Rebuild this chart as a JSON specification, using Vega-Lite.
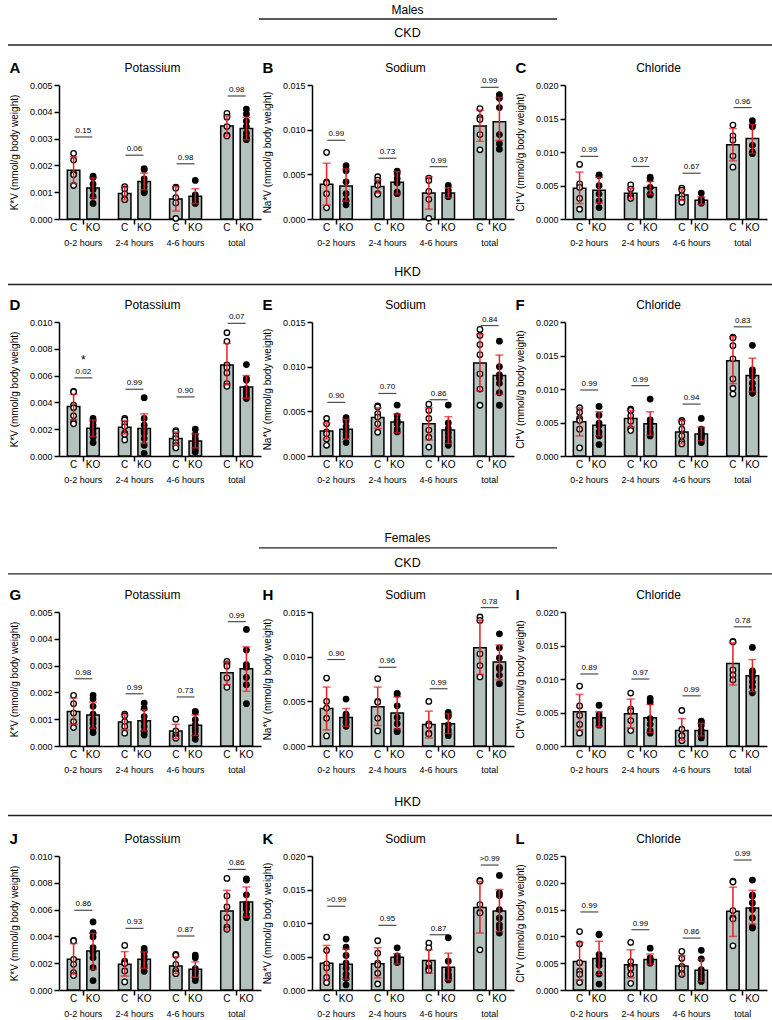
{
"$schema":"https://vega.github.io/schema/vega-lite/v6.json",
"background":"white",
"padding":{"left":7,"top":0,"right":0,"bottom":0},
"spacing":0,
"config":{"font":"Liberation Sans","view":{"stroke":null},
"axis":{"domainColor":"black","domainWidth":1.5,"tickColor":"black","tickWidth":1.5,"tickSize":5,"labelColor":"black","titleColor":"black","labelFontSize":9,"grid":false},
"axisY":{"titleFontSize":10,"titleFontWeight":"normal","titlePadding":10,"labelPadding":2,"labelOverlap":false},
"axisX":{"labelAngle":0,"labelPadding":14.5}},
"datasets":{
"bars":[
{"p":"A","g":"0-2","k":"C","m":0.00182,"lo":0.00132,"hi":0.00232},{"p":"A","g":"0-2","k":"KO","m":0.00116,"lo":0.00079,"hi":0.00153},{"p":"A","g":"2-4","k":"C","m":0.00095,"lo":0.00071,"hi":0.00119},{"p":"A","g":"2-4","k":"KO","m":0.0014,"lo":0.00109,"hi":0.00171},{"p":"A","g":"4-6","k":"C","m":0.00075,"lo":0.0003,"hi":0.0012},{"p":"A","g":"4-6","k":"KO","m":0.00085,"lo":0.00057,"hi":0.00113},{"p":"A","g":"total","k":"C","m":0.00347,"lo":0.00309,"hi":0.00385},{"p":"A","g":"total","k":"KO","m":0.00338,"lo":0.00296,"hi":0.0038},
{"p":"B","g":"0-2","k":"C","m":0.0039,"lo":0.00155,"hi":0.00625},{"p":"B","g":"0-2","k":"KO","m":0.0037,"lo":0.002,"hi":0.0056},{"p":"B","g":"2-4","k":"C","m":0.00365,"lo":0.0029,"hi":0.0044},{"p":"B","g":"2-4","k":"KO","m":0.0041,"lo":0.0028,"hi":0.0053},{"p":"B","g":"4-6","k":"C","m":0.0029,"lo":0.0011,"hi":0.0047},{"p":"B","g":"4-6","k":"KO","m":0.0029,"lo":0.0024,"hi":0.0035},{"p":"B","g":"total","k":"C","m":0.0104,"lo":0.0087,"hi":0.0122},{"p":"B","g":"total","k":"KO","m":0.0109,"lo":0.0088,"hi":0.0136},
{"p":"C","g":"0-2","k":"C","m":0.0046,"lo":0.0023,"hi":0.007},{"p":"C","g":"0-2","k":"KO","m":0.0043,"lo":0.0024,"hi":0.0062},{"p":"C","g":"2-4","k":"C","m":0.00385,"lo":0.003,"hi":0.0046},{"p":"C","g":"2-4","k":"KO","m":0.0047,"lo":0.0037,"hi":0.0056},{"p":"C","g":"4-6","k":"C","m":0.0036,"lo":0.0028,"hi":0.0044},{"p":"C","g":"4-6","k":"KO","m":0.0028,"lo":0.0022,"hi":0.0033},{"p":"C","g":"total","k":"C","m":0.0111,"lo":0.0087,"hi":0.0135},{"p":"C","g":"total","k":"KO","m":0.012,"lo":0.0098,"hi":0.0141},
{"p":"D","g":"0-2","k":"C","m":0.0037,"lo":0.0027,"hi":0.0046},{"p":"D","g":"0-2","k":"KO","m":0.00207,"lo":0.00145,"hi":0.00268},{"p":"D","g":"2-4","k":"C","m":0.00215,"lo":0.00163,"hi":0.00262},{"p":"D","g":"2-4","k":"KO","m":0.00205,"lo":0.00095,"hi":0.00315},{"p":"D","g":"4-6","k":"C","m":0.0013,"lo":0.0008,"hi":0.0018},{"p":"D","g":"4-6","k":"KO","m":0.00112,"lo":0.0006,"hi":0.00165},{"p":"D","g":"total","k":"C","m":0.0068,"lo":0.0053,"hi":0.0084},{"p":"D","g":"total","k":"KO","m":0.00515,"lo":0.0043,"hi":0.006},
{"p":"E","g":"0-2","k":"C","m":0.0028,"lo":0.0019,"hi":0.0037},{"p":"E","g":"0-2","k":"KO","m":0.003,"lo":0.0019,"hi":0.0041},{"p":"E","g":"2-4","k":"C","m":0.0043,"lo":0.0031,"hi":0.0054},{"p":"E","g":"2-4","k":"KO","m":0.0038,"lo":0.0026,"hi":0.0047},{"p":"E","g":"4-6","k":"C","m":0.0036,"lo":0.0018,"hi":0.0054},{"p":"E","g":"4-6","k":"KO","m":0.0029,"lo":0.0014,"hi":0.0044},{"p":"E","g":"total","k":"C","m":0.0104,"lo":0.0073,"hi":0.0136},{"p":"E","g":"total","k":"KO","m":0.009,"lo":0.0069,"hi":0.0113},
{"p":"F","g":"0-2","k":"C","m":0.0051,"lo":0.003,"hi":0.0072},{"p":"F","g":"0-2","k":"KO","m":0.0046,"lo":0.003,"hi":0.0066},{"p":"F","g":"2-4","k":"C","m":0.0056,"lo":0.0043,"hi":0.0068},{"p":"F","g":"2-4","k":"KO","m":0.0048,"lo":0.0031,"hi":0.0066},{"p":"F","g":"4-6","k":"C","m":0.0036,"lo":0.0018,"hi":0.0053},{"p":"F","g":"4-6","k":"KO","m":0.0033,"lo":0.0023,"hi":0.0043},{"p":"F","g":"total","k":"C","m":0.0142,"lo":0.0108,"hi":0.0178},{"p":"F","g":"total","k":"KO","m":0.012,"lo":0.0096,"hi":0.0146},
{"p":"G","g":"0-2","k":"C","m":0.00129,"lo":0.00081,"hi":0.00179},{"p":"G","g":"0-2","k":"KO","m":0.00116,"lo":0.00066,"hi":0.00164},{"p":"G","g":"2-4","k":"C","m":0.0009,"lo":0.0006,"hi":0.00116},{"p":"G","g":"2-4","k":"KO","m":0.00094,"lo":0.00056,"hi":0.00135},{"p":"G","g":"4-6","k":"C","m":0.00056,"lo":0.00027,"hi":0.00081},{"p":"G","g":"4-6","k":"KO","m":0.00077,"lo":0.00039,"hi":0.00116},{"p":"G","g":"total","k":"C","m":0.00273,"lo":0.00229,"hi":0.00314},{"p":"G","g":"total","k":"KO","m":0.00288,"lo":0.00204,"hi":0.0037},
{"p":"H","g":"0-2","k":"C","m":0.0042,"lo":0.0018,"hi":0.0066},{"p":"H","g":"0-2","k":"KO","m":0.0032,"lo":0.0022,"hi":0.0042},{"p":"H","g":"2-4","k":"C","m":0.0044,"lo":0.0023,"hi":0.0066},{"p":"H","g":"2-4","k":"KO","m":0.0037,"lo":0.0019,"hi":0.0055},{"p":"H","g":"4-6","k":"C","m":0.0024,"lo":0.0009,"hi":0.0039},{"p":"H","g":"4-6","k":"KO","m":0.0025,"lo":0.0014,"hi":0.0036},{"p":"H","g":"total","k":"C","m":0.011,"lo":0.008,"hi":0.0141},{"p":"H","g":"total","k":"KO","m":0.0094,"lo":0.0074,"hi":0.0113},
{"p":"I","g":"0-2","k":"C","m":0.0051,"lo":0.0024,"hi":0.0077},{"p":"I","g":"0-2","k":"KO","m":0.0042,"lo":0.0029,"hi":0.0051},{"p":"I","g":"2-4","k":"C","m":0.0048,"lo":0.0027,"hi":0.007},{"p":"I","g":"2-4","k":"KO","m":0.0042,"lo":0.002,"hi":0.0062},{"p":"I","g":"4-6","k":"C","m":0.0023,"lo":0.0008,"hi":0.0041},{"p":"I","g":"4-6","k":"KO","m":0.0023,"lo":0.0015,"hi":0.0034},{"p":"I","g":"total","k":"C","m":0.0123,"lo":0.0091,"hi":0.0154},{"p":"I","g":"total","k":"KO","m":0.0105,"lo":0.0081,"hi":0.0129},
{"p":"J","g":"0-2","k":"C","m":0.00229,"lo":0.00117,"hi":0.00346},{"p":"J","g":"0-2","k":"KO","m":0.00291,"lo":0.00154,"hi":0.00423},{"p":"J","g":"2-4","k":"C","m":0.00192,"lo":0.00104,"hi":0.00286},{"p":"J","g":"2-4","k":"KO","m":0.00229,"lo":0.00162,"hi":0.00284},{"p":"J","g":"4-6","k":"C","m":0.00179,"lo":0.00122,"hi":0.00249},{"p":"J","g":"4-6","k":"KO","m":0.00154,"lo":0.00095,"hi":0.0021},{"p":"J","g":"total","k":"C","m":0.0059,"lo":0.00448,"hi":0.00744},{"p":"J","g":"total","k":"KO","m":0.00657,"lo":0.00545,"hi":0.00769},
{"p":"K","g":"0-2","k":"C","m":0.004,"lo":0.0015,"hi":0.00665},{"p":"K","g":"0-2","k":"KO","m":0.00385,"lo":0.0016,"hi":0.0061},{"p":"K","g":"2-4","k":"C","m":0.0039,"lo":0.0018,"hi":0.0063},{"p":"K","g":"2-4","k":"KO","m":0.0049,"lo":0.0039,"hi":0.0054},{"p":"K","g":"4-6","k":"C","m":0.0044,"lo":0.0025,"hi":0.006},{"p":"K","g":"4-6","k":"KO","m":0.0034,"lo":0.0015,"hi":0.0055},{"p":"K","g":"total","k":"C","m":0.0123,"lo":0.0085,"hi":0.0162},{"p":"K","g":"total","k":"KO","m":0.0118,"lo":0.0087,"hi":0.015},
{"p":"L","g":"0-2","k":"C","m":0.0053,"lo":0.0019,"hi":0.0089},{"p":"L","g":"0-2","k":"KO","m":0.0059,"lo":0.0029,"hi":0.0091},{"p":"L","g":"2-4","k":"C","m":0.0047,"lo":0.0023,"hi":0.0075},{"p":"L","g":"2-4","k":"KO","m":0.0057,"lo":0.0048,"hi":0.0067},{"p":"L","g":"4-6","k":"C","m":0.0045,"lo":0.0027,"hi":0.0064},{"p":"L","g":"4-6","k":"KO","m":0.0037,"lo":0.0016,"hi":0.0057},{"p":"L","g":"total","k":"C","m":0.0147,"lo":0.01,"hi":0.0192},{"p":"L","g":"total","k":"KO","m":0.0153,"lo":0.0123,"hi":0.0186}
],
"ann":[
{"p":"A","g":"0-2","t":"0.15","y":0.00306},{"p":"A","g":"2-4","t":"0.06","y":0.00238},{"p":"A","g":"4-6","t":"0.98","y":0.00206},{"p":"A","g":"total","t":"0.98","y":0.00459},
{"p":"B","g":"0-2","t":"0.99","y":0.00881},{"p":"B","g":"2-4","t":"0.73","y":0.0068},{"p":"B","g":"4-6","t":"0.99","y":0.00586},{"p":"B","g":"total","t":"0.99","y":0.01474},
{"p":"C","g":"0-2","t":"0.99","y":0.00935},{"p":"C","g":"2-4","t":"0.37","y":0.00784},{"p":"C","g":"4-6","t":"0.67","y":0.00683},{"p":"C","g":"total","t":"0.96","y":0.01663},
{"p":"D","g":"0-2","t":"0.02","y":0.00583,"s":"*"},{"p":"D","g":"2-4","t":"0.99","y":0.00498},{"p":"D","g":"4-6","t":"0.90","y":0.00441},{"p":"D","g":"total","t":"0.07","y":0.0099},
{"p":"E","g":"0-2","t":"0.90","y":0.006},{"p":"E","g":"2-4","t":"0.70","y":0.007},{"p":"E","g":"4-6","t":"0.86","y":0.0063},{"p":"E","g":"total","t":"0.84","y":0.0146},
{"p":"F","g":"0-2","t":"0.99","y":0.00985},{"p":"F","g":"2-4","t":"0.99","y":0.0105},{"p":"F","g":"4-6","t":"0.94","y":0.00775},{"p":"F","g":"total","t":"0.83","y":0.01928},
{"p":"G","g":"0-2","t":"0.98","y":0.00251},{"p":"G","g":"2-4","t":"0.99","y":0.00195},{"p":"G","g":"4-6","t":"0.73","y":0.00183},{"p":"G","g":"total","t":"0.99","y":0.00464},
{"p":"H","g":"0-2","t":"0.90","y":0.00968},{"p":"H","g":"2-4","t":"0.96","y":0.00881},{"p":"H","g":"4-6","t":"0.99","y":0.00641},{"p":"H","g":"total","t":"0.78","y":0.01549},
{"p":"I","g":"0-2","t":"0.89","y":0.01075},{"p":"I","g":"2-4","t":"0.97","y":0.01},{"p":"I","g":"4-6","t":"0.99","y":0.00749},{"p":"I","g":"total","t":"0.78","y":0.01779},
{"p":"J","g":"0-2","t":"0.86","y":0.00595},{"p":"J","g":"2-4","t":"0.93","y":0.0046},{"p":"J","g":"4-6","t":"0.87","y":0.00403},{"p":"J","g":"total","t":"0.86","y":0.009},
{"p":"K","g":"0-2","t":">0.99","y":0.0125},{"p":"K","g":"2-4","t":"0.95","y":0.00965},{"p":"K","g":"4-6","t":"0.87","y":0.00825},{"p":"K","g":"total","t":">0.99","y":0.01865},
{"p":"L","g":"0-2","t":"0.99","y":0.01456},{"p":"L","g":"2-4","t":"0.99","y":0.01125},{"p":"L","g":"4-6","t":"0.86","y":0.00969},{"p":"L","g":"total","t":"0.99","y":0.02425}
],
"pts":[
{"p":"A","g":"0-2","k":"C","v":0.00245},{"p":"A","g":"0-2","k":"C","v":0.0022},{"p":"A","g":"0-2","k":"C","v":0.0017},{"p":"A","g":"0-2","k":"C","v":0.00165},{"p":"A","g":"0-2","k":"C","v":0.00125},
{"p":"A","g":"0-2","k":"KO","v":0.0016},{"p":"A","g":"0-2","k":"KO","v":0.00155},{"p":"A","g":"0-2","k":"KO","v":0.0013},{"p":"A","g":"0-2","k":"KO","v":0.0011},{"p":"A","g":"0-2","k":"KO","v":0.00085},{"p":"A","g":"0-2","k":"KO","v":0.00058},
{"p":"A","g":"2-4","k":"C","v":0.00121},{"p":"A","g":"2-4","k":"C","v":0.00112},{"p":"A","g":"2-4","k":"C","v":0.00094},{"p":"A","g":"2-4","k":"C","v":0.00074},{"p":"A","g":"2-4","k":"C","v":0.00072},
{"p":"A","g":"2-4","k":"KO","v":0.00188},{"p":"A","g":"2-4","k":"KO","v":0.00185},{"p":"A","g":"2-4","k":"KO","v":0.0015},{"p":"A","g":"2-4","k":"KO","v":0.00134},{"p":"A","g":"2-4","k":"KO","v":0.00119},{"p":"A","g":"2-4","k":"KO","v":0.00103},{"p":"A","g":"2-4","k":"KO","v":0.00098},
{"p":"A","g":"4-6","k":"C","v":0.00119},{"p":"A","g":"4-6","k":"C","v":0.00115},{"p":"A","g":"4-6","k":"C","v":0.0008},{"p":"A","g":"4-6","k":"C","v":0.0006},{"p":"A","g":"4-6","k":"C","v":0.00002},
{"p":"A","g":"4-6","k":"KO","v":0.00144},{"p":"A","g":"4-6","k":"KO","v":0.0009},{"p":"A","g":"4-6","k":"KO","v":0.00078},{"p":"A","g":"4-6","k":"KO","v":0.0007},{"p":"A","g":"4-6","k":"KO","v":0.0006},{"p":"A","g":"4-6","k":"KO","v":0.00058},
{"p":"A","g":"total","k":"C","v":0.00394},{"p":"A","g":"total","k":"C","v":0.0038},{"p":"A","g":"total","k":"C","v":0.00345},{"p":"A","g":"total","k":"C","v":0.00313},{"p":"A","g":"total","k":"C","v":0.0031},
{"p":"A","g":"total","k":"KO","v":0.0041},{"p":"A","g":"total","k":"KO","v":0.00392},{"p":"A","g":"total","k":"KO","v":0.00365},{"p":"A","g":"total","k":"KO","v":0.00345},{"p":"A","g":"total","k":"KO","v":0.0032},{"p":"A","g":"total","k":"KO","v":0.00305},{"p":"A","g":"total","k":"KO","v":0.00296},
{"p":"B","g":"0-2","k":"C","v":0.00745},{"p":"B","g":"0-2","k":"C","v":0.00416},{"p":"B","g":"0-2","k":"C","v":0.00404},{"p":"B","g":"0-2","k":"C","v":0.00284},{"p":"B","g":"0-2","k":"C","v":0.00125},
{"p":"B","g":"0-2","k":"KO","v":0.00597},{"p":"B","g":"0-2","k":"KO","v":0.0054},{"p":"B","g":"0-2","k":"KO","v":0.00416},{"p":"B","g":"0-2","k":"KO","v":0.00284},{"p":"B","g":"0-2","k":"KO","v":0.00208},{"p":"B","g":"0-2","k":"KO","v":0.00159},
{"p":"B","g":"2-4","k":"C","v":0.00473},{"p":"B","g":"2-4","k":"C","v":0.00435},{"p":"B","g":"2-4","k":"C","v":0.00397},{"p":"B","g":"2-4","k":"C","v":0.00378},{"p":"B","g":"2-4","k":"C","v":0.00284},{"p":"B","g":"2-4","k":"C","v":0.00276},
{"p":"B","g":"2-4","k":"KO","v":0.00537},{"p":"B","g":"2-4","k":"KO","v":0.0051},{"p":"B","g":"2-4","k":"KO","v":0.00454},{"p":"B","g":"2-4","k":"KO","v":0.00404},{"p":"B","g":"2-4","k":"KO","v":0.00302},{"p":"B","g":"2-4","k":"KO","v":0.00284},
{"p":"B","g":"4-6","k":"C","v":0.00458},{"p":"B","g":"4-6","k":"C","v":0.0043},{"p":"B","g":"4-6","k":"C","v":0.0031},{"p":"B","g":"4-6","k":"C","v":0.0022},{"p":"B","g":"4-6","k":"C","v":0.00008},
{"p":"B","g":"4-6","k":"KO","v":0.00375},{"p":"B","g":"4-6","k":"KO","v":0.0032},{"p":"B","g":"4-6","k":"KO","v":0.0028},{"p":"B","g":"4-6","k":"KO","v":0.0026},{"p":"B","g":"4-6","k":"KO","v":0.0025},
{"p":"B","g":"total","k":"C","v":0.01236},{"p":"B","g":"total","k":"C","v":0.01134},{"p":"B","g":"total","k":"C","v":0.01115},{"p":"B","g":"total","k":"C","v":0.00945},{"p":"B","g":"total","k":"C","v":0.00775},
{"p":"B","g":"total","k":"KO","v":0.01391},{"p":"B","g":"total","k":"KO","v":0.01353},{"p":"B","g":"total","k":"KO","v":0.01247},{"p":"B","g":"total","k":"KO","v":0.00945},{"p":"B","g":"total","k":"KO","v":0.00843},{"p":"B","g":"total","k":"KO","v":0.00782},
{"p":"C","g":"0-2","k":"C","v":0.00814},{"p":"C","g":"0-2","k":"C","v":0.00523},{"p":"C","g":"0-2","k":"C","v":0.00472},{"p":"C","g":"0-2","k":"C","v":0.00307},{"p":"C","g":"0-2","k":"C","v":0.00146},
{"p":"C","g":"0-2","k":"KO","v":0.00658},{"p":"C","g":"0-2","k":"KO","v":0.00648},{"p":"C","g":"0-2","k":"KO","v":0.00497},{"p":"C","g":"0-2","k":"KO","v":0.00372},{"p":"C","g":"0-2","k":"KO","v":0.00271},{"p":"C","g":"0-2","k":"KO","v":0.00171},
{"p":"C","g":"2-4","k":"C","v":0.00508},{"p":"C","g":"2-4","k":"C","v":0.00447},{"p":"C","g":"2-4","k":"C","v":0.00347},{"p":"C","g":"2-4","k":"C","v":0.00317},{"p":"C","g":"2-4","k":"C","v":0.00307},
{"p":"C","g":"2-4","k":"KO","v":0.00623},{"p":"C","g":"2-4","k":"KO","v":0.00598},{"p":"C","g":"2-4","k":"KO","v":0.00472},{"p":"C","g":"2-4","k":"KO","v":0.00372},{"p":"C","g":"2-4","k":"KO","v":0.0036},
{"p":"C","g":"4-6","k":"C","v":0.0046},{"p":"C","g":"4-6","k":"C","v":0.0043},{"p":"C","g":"4-6","k":"C","v":0.0035},{"p":"C","g":"4-6","k":"C","v":0.003},{"p":"C","g":"4-6","k":"C","v":0.0025},
{"p":"C","g":"4-6","k":"KO","v":0.00387},{"p":"C","g":"4-6","k":"KO","v":0.00296},{"p":"C","g":"4-6","k":"KO","v":0.00271},{"p":"C","g":"4-6","k":"KO","v":0.00246},{"p":"C","g":"4-6","k":"KO","v":0.00236},
{"p":"C","g":"total","k":"C","v":0.01402},{"p":"C","g":"total","k":"C","v":0.01241},{"p":"C","g":"total","k":"C","v":0.01176},{"p":"C","g":"total","k":"C","v":0.0094},{"p":"C","g":"total","k":"C","v":0.00774},
{"p":"C","g":"total","k":"KO","v":0.01467},{"p":"C","g":"total","k":"KO","v":0.01392},{"p":"C","g":"total","k":"KO","v":0.01377},{"p":"C","g":"total","k":"KO","v":0.011},{"p":"C","g":"total","k":"KO","v":0.01},{"p":"C","g":"total","k":"KO","v":0.00975},
{"p":"D","g":"0-2","k":"C","v":0.00483},{"p":"D","g":"0-2","k":"C","v":0.00478},{"p":"D","g":"0-2","k":"C","v":0.0038},{"p":"D","g":"0-2","k":"C","v":0.0036},{"p":"D","g":"0-2","k":"C","v":0.003},{"p":"D","g":"0-2","k":"C","v":0.0025},{"p":"D","g":"0-2","k":"C","v":0.0024},
{"p":"D","g":"0-2","k":"KO","v":0.0028},{"p":"D","g":"0-2","k":"KO","v":0.0026},{"p":"D","g":"0-2","k":"KO","v":0.0023},{"p":"D","g":"0-2","k":"KO","v":0.002},{"p":"D","g":"0-2","k":"KO","v":0.0017},{"p":"D","g":"0-2","k":"KO","v":0.0014},{"p":"D","g":"0-2","k":"KO","v":0.001},
{"p":"D","g":"2-4","k":"C","v":0.0028},{"p":"D","g":"2-4","k":"C","v":0.0027},{"p":"D","g":"2-4","k":"C","v":0.0024},{"p":"D","g":"2-4","k":"C","v":0.0022},{"p":"D","g":"2-4","k":"C","v":0.0017},{"p":"D","g":"2-4","k":"C","v":0.0016},{"p":"D","g":"2-4","k":"C","v":0.0012},
{"p":"D","g":"2-4","k":"KO","v":0.00435},{"p":"D","g":"2-4","k":"KO","v":0.0028},{"p":"D","g":"2-4","k":"KO","v":0.0023},{"p":"D","g":"2-4","k":"KO","v":0.0019},{"p":"D","g":"2-4","k":"KO","v":0.0017},{"p":"D","g":"2-4","k":"KO","v":0.0013},{"p":"D","g":"2-4","k":"KO","v":0.0008},{"p":"D","g":"2-4","k":"KO","v":0.0002},
{"p":"D","g":"4-6","k":"C","v":0.0019},{"p":"D","g":"4-6","k":"C","v":0.0018},{"p":"D","g":"4-6","k":"C","v":0.0015},{"p":"D","g":"4-6","k":"C","v":0.0013},{"p":"D","g":"4-6","k":"C","v":0.001},{"p":"D","g":"4-6","k":"C","v":0.0008},{"p":"D","g":"4-6","k":"C","v":0.0006},
{"p":"D","g":"4-6","k":"KO","v":0.002},{"p":"D","g":"4-6","k":"KO","v":0.0016},{"p":"D","g":"4-6","k":"KO","v":0.0013},{"p":"D","g":"4-6","k":"KO","v":0.0011},{"p":"D","g":"4-6","k":"KO","v":0.0009},{"p":"D","g":"4-6","k":"KO","v":0.0007},{"p":"D","g":"4-6","k":"KO","v":0.0005},{"p":"D","g":"4-6","k":"KO","v":0.0003},
{"p":"D","g":"total","k":"C","v":0.0092},{"p":"D","g":"total","k":"C","v":0.00856},{"p":"D","g":"total","k":"C","v":0.0068},{"p":"D","g":"total","k":"C","v":0.0066},{"p":"D","g":"total","k":"C","v":0.0062},{"p":"D","g":"total","k":"C","v":0.0054},{"p":"D","g":"total","k":"C","v":0.0052},
{"p":"D","g":"total","k":"KO","v":0.00682},{"p":"D","g":"total","k":"KO","v":0.00578},{"p":"D","g":"total","k":"KO","v":0.00565},{"p":"D","g":"total","k":"KO","v":0.00503},{"p":"D","g":"total","k":"KO","v":0.00478},{"p":"D","g":"total","k":"KO","v":0.00453},{"p":"D","g":"total","k":"KO","v":0.00429},
{"p":"E","g":"0-2","k":"C","v":0.0042},{"p":"E","g":"0-2","k":"C","v":0.0036},{"p":"E","g":"0-2","k":"C","v":0.0027},{"p":"E","g":"0-2","k":"C","v":0.0025},{"p":"E","g":"0-2","k":"C","v":0.0019},{"p":"E","g":"0-2","k":"C","v":0.0012},
{"p":"E","g":"0-2","k":"KO","v":0.0043},{"p":"E","g":"0-2","k":"KO","v":0.0039},{"p":"E","g":"0-2","k":"KO","v":0.0033},{"p":"E","g":"0-2","k":"KO","v":0.0029},{"p":"E","g":"0-2","k":"KO","v":0.0026},{"p":"E","g":"0-2","k":"KO","v":0.0022},{"p":"E","g":"0-2","k":"KO","v":0.0015},
{"p":"E","g":"2-4","k":"C","v":0.0056},{"p":"E","g":"2-4","k":"C","v":0.00549},{"p":"E","g":"2-4","k":"C","v":0.00474},{"p":"E","g":"2-4","k":"C","v":0.00436},{"p":"E","g":"2-4","k":"C","v":0.0036},{"p":"E","g":"2-4","k":"C","v":0.00266},
{"p":"E","g":"2-4","k":"KO","v":0.0057},{"p":"E","g":"2-4","k":"KO","v":0.0045},{"p":"E","g":"2-4","k":"KO","v":0.004},{"p":"E","g":"2-4","k":"KO","v":0.0038},{"p":"E","g":"2-4","k":"KO","v":0.0036},{"p":"E","g":"2-4","k":"KO","v":0.003},{"p":"E","g":"2-4","k":"KO","v":0.0027},
{"p":"E","g":"4-6","k":"C","v":0.0058},{"p":"E","g":"4-6","k":"C","v":0.0051},{"p":"E","g":"4-6","k":"C","v":0.0042},{"p":"E","g":"4-6","k":"C","v":0.0029},{"p":"E","g":"4-6","k":"C","v":0.0021},{"p":"E","g":"4-6","k":"C","v":0.001},
{"p":"E","g":"4-6","k":"KO","v":0.0057},{"p":"E","g":"4-6","k":"KO","v":0.0037},{"p":"E","g":"4-6","k":"KO","v":0.0031},{"p":"E","g":"4-6","k":"KO","v":0.0026},{"p":"E","g":"4-6","k":"KO","v":0.0021},{"p":"E","g":"4-6","k":"KO","v":0.0016},{"p":"E","g":"4-6","k":"KO","v":0.0012},
{"p":"E","g":"total","k":"C","v":0.01417},{"p":"E","g":"total","k":"C","v":0.01349},{"p":"E","g":"total","k":"C","v":0.01247},{"p":"E","g":"total","k":"C","v":0.01134},{"p":"E","g":"total","k":"C","v":0.00919},{"p":"E","g":"total","k":"C","v":0.00749},{"p":"E","g":"total","k":"C","v":0.00568},
{"p":"E","g":"total","k":"KO","v":0.01285},{"p":"E","g":"total","k":"KO","v":0.01},{"p":"E","g":"total","k":"KO","v":0.00908},{"p":"E","g":"total","k":"KO","v":0.0087},{"p":"E","g":"total","k":"KO","v":0.00813},{"p":"E","g":"total","k":"KO","v":0.00708},{"p":"E","g":"total","k":"KO","v":0.00568},
{"p":"F","g":"0-2","k":"C","v":0.0072},{"p":"F","g":"0-2","k":"C","v":0.0065},{"p":"F","g":"0-2","k":"C","v":0.0056},{"p":"F","g":"0-2","k":"C","v":0.0053},{"p":"F","g":"0-2","k":"C","v":0.004},{"p":"F","g":"0-2","k":"C","v":0.0012},
{"p":"F","g":"0-2","k":"KO","v":0.0074},{"p":"F","g":"0-2","k":"KO","v":0.0061},{"p":"F","g":"0-2","k":"KO","v":0.0049},{"p":"F","g":"0-2","k":"KO","v":0.0045},{"p":"F","g":"0-2","k":"KO","v":0.0036},{"p":"F","g":"0-2","k":"KO","v":0.003},{"p":"F","g":"0-2","k":"KO","v":0.0017},
{"p":"F","g":"2-4","k":"C","v":0.007},{"p":"F","g":"2-4","k":"C","v":0.0068},{"p":"F","g":"2-4","k":"C","v":0.006},{"p":"F","g":"2-4","k":"C","v":0.0052},{"p":"F","g":"2-4","k":"C","v":0.0041},{"p":"F","g":"2-4","k":"C","v":0.0038},
{"p":"F","g":"2-4","k":"KO","v":0.0085},{"p":"F","g":"2-4","k":"KO","v":0.0054},{"p":"F","g":"2-4","k":"KO","v":0.0049},{"p":"F","g":"2-4","k":"KO","v":0.0042},{"p":"F","g":"2-4","k":"KO","v":0.0036},{"p":"F","g":"2-4","k":"KO","v":0.0033},{"p":"F","g":"2-4","k":"KO","v":0.003},
{"p":"F","g":"4-6","k":"C","v":0.0053},{"p":"F","g":"4-6","k":"C","v":0.005},{"p":"F","g":"4-6","k":"C","v":0.004},{"p":"F","g":"4-6","k":"C","v":0.003},{"p":"F","g":"4-6","k":"C","v":0.0021},{"p":"F","g":"4-6","k":"C","v":0.0018},
{"p":"F","g":"4-6","k":"KO","v":0.0056},{"p":"F","g":"4-6","k":"KO","v":0.004},{"p":"F","g":"4-6","k":"KO","v":0.0035},{"p":"F","g":"4-6","k":"KO","v":0.0032},{"p":"F","g":"4-6","k":"KO","v":0.003},{"p":"F","g":"4-6","k":"KO","v":0.0028},{"p":"F","g":"4-6","k":"KO","v":0.0024},{"p":"F","g":"4-6","k":"KO","v":0.002},
{"p":"F","g":"total","k":"C","v":0.01773},{"p":"F","g":"total","k":"C","v":0.01763},{"p":"F","g":"total","k":"C","v":0.01647},{"p":"F","g":"total","k":"C","v":0.0145},{"p":"F","g":"total","k":"C","v":0.0115},{"p":"F","g":"total","k":"C","v":0.01011},{"p":"F","g":"total","k":"C","v":0.00925},
{"p":"F","g":"total","k":"KO","v":0.01652},{"p":"F","g":"total","k":"KO","v":0.01286},{"p":"F","g":"total","k":"KO","v":0.01246},{"p":"F","g":"total","k":"KO","v":0.01186},{"p":"F","g":"total","k":"KO","v":0.01086},{"p":"F","g":"total","k":"KO","v":0.01011},{"p":"F","g":"total","k":"KO","v":0.0096},{"p":"F","g":"total","k":"KO","v":0.00936},
{"p":"G","g":"0-2","k":"C","v":0.00189},{"p":"G","g":"0-2","k":"C","v":0.00158},{"p":"G","g":"0-2","k":"C","v":0.00123},{"p":"G","g":"0-2","k":"C","v":0.00091},{"p":"G","g":"0-2","k":"C","v":0.00069},
{"p":"G","g":"0-2","k":"KO","v":0.00189},{"p":"G","g":"0-2","k":"KO","v":0.00176},{"p":"G","g":"0-2","k":"KO","v":0.00148},{"p":"G","g":"0-2","k":"KO","v":0.00119},{"p":"G","g":"0-2","k":"KO","v":0.00098},{"p":"G","g":"0-2","k":"KO","v":0.00085},{"p":"G","g":"0-2","k":"KO","v":0.00066},{"p":"G","g":"0-2","k":"KO","v":0.0005},
{"p":"G","g":"2-4","k":"C","v":0.00119},{"p":"G","g":"2-4","k":"C","v":0.00113},{"p":"G","g":"2-4","k":"C","v":0.00091},{"p":"G","g":"2-4","k":"C","v":0.00073},{"p":"G","g":"2-4","k":"C","v":0.00048},
{"p":"G","g":"2-4","k":"KO","v":0.0016},{"p":"G","g":"2-4","k":"KO","v":0.00141},{"p":"G","g":"2-4","k":"KO","v":0.0011},{"p":"G","g":"2-4","k":"KO","v":0.00091},{"p":"G","g":"2-4","k":"KO","v":0.00073},{"p":"G","g":"2-4","k":"KO","v":0.00054},{"p":"G","g":"2-4","k":"KO","v":0.00041},
{"p":"G","g":"4-6","k":"C","v":0.001},{"p":"G","g":"4-6","k":"C","v":0.00056},{"p":"G","g":"4-6","k":"C","v":0.00041},{"p":"G","g":"4-6","k":"C","v":0.00035},{"p":"G","g":"4-6","k":"C","v":0.00029},
{"p":"G","g":"4-6","k":"KO","v":0.00129},{"p":"G","g":"4-6","k":"KO","v":0.00126},{"p":"G","g":"4-6","k":"KO","v":0.00098},{"p":"G","g":"4-6","k":"KO","v":0.00079},{"p":"G","g":"4-6","k":"KO","v":0.00066},{"p":"G","g":"4-6","k":"KO","v":0.00054},{"p":"G","g":"4-6","k":"KO","v":0.00039},{"p":"G","g":"4-6","k":"KO","v":0.00025},
{"p":"G","g":"total","k":"C","v":0.00316},{"p":"G","g":"total","k":"C","v":0.00306},{"p":"G","g":"total","k":"C","v":0.00298},{"p":"G","g":"total","k":"C","v":0.00254},{"p":"G","g":"total","k":"C","v":0.00219},
{"p":"G","g":"total","k":"KO","v":0.00435},{"p":"G","g":"total","k":"KO","v":0.00358},{"p":"G","g":"total","k":"KO","v":0.00304},{"p":"G","g":"total","k":"KO","v":0.00294},{"p":"G","g":"total","k":"KO","v":0.00256},{"p":"G","g":"total","k":"KO","v":0.00229},{"p":"G","g":"total","k":"KO","v":0.00158},
{"p":"H","g":"0-2","k":"C","v":0.00761},{"p":"H","g":"0-2","k":"C","v":0.00499},{"p":"H","g":"0-2","k":"C","v":0.00424},{"p":"H","g":"0-2","k":"C","v":0.00311},{"p":"H","g":"0-2","k":"C","v":0.00113},
{"p":"H","g":"0-2","k":"KO","v":0.00525},{"p":"H","g":"0-2","k":"KO","v":0.00356},{"p":"H","g":"0-2","k":"KO","v":0.00341},{"p":"H","g":"0-2","k":"KO","v":0.00293},{"p":"H","g":"0-2","k":"KO","v":0.00274},{"p":"H","g":"0-2","k":"KO","v":0.00255},{"p":"H","g":"0-2","k":"KO","v":0.0022},
{"p":"H","g":"2-4","k":"C","v":0.00754},{"p":"H","g":"2-4","k":"C","v":0.00499},{"p":"H","g":"2-4","k":"C","v":0.00491},{"p":"H","g":"2-4","k":"C","v":0.00311},{"p":"H","g":"2-4","k":"C","v":0.00169},
{"p":"H","g":"2-4","k":"KO","v":0.0059},{"p":"H","g":"2-4","k":"KO","v":0.0058},{"p":"H","g":"2-4","k":"KO","v":0.0045},{"p":"H","g":"2-4","k":"KO","v":0.0032},{"p":"H","g":"2-4","k":"KO","v":0.0025},{"p":"H","g":"2-4","k":"KO","v":0.0017},{"p":"H","g":"2-4","k":"KO","v":0.0016},
{"p":"H","g":"4-6","k":"C","v":0.00499},{"p":"H","g":"4-6","k":"C","v":0.00248},{"p":"H","g":"4-6","k":"C","v":0.00229},{"p":"H","g":"4-6","k":"C","v":0.00143},{"p":"H","g":"4-6","k":"C","v":0.00135},
{"p":"H","g":"4-6","k":"KO","v":0.00375},{"p":"H","g":"4-6","k":"KO","v":0.00349},{"p":"H","g":"4-6","k":"KO","v":0.0033},{"p":"H","g":"4-6","k":"KO","v":0.00236},{"p":"H","g":"4-6","k":"KO","v":0.0018},{"p":"H","g":"4-6","k":"KO","v":0.00143},{"p":"H","g":"4-6","k":"KO","v":0.00116},
{"p":"H","g":"total","k":"C","v":0.01444},{"p":"H","g":"total","k":"C","v":0.01406},{"p":"H","g":"total","k":"C","v":0.01031},{"p":"H","g":"total","k":"C","v":0.009},{"p":"H","g":"total","k":"C","v":0.00773},
{"p":"H","g":"total","k":"KO","v":0.01256},{"p":"H","g":"total","k":"KO","v":0.01099},{"p":"H","g":"total","k":"KO","v":0.00986},{"p":"H","g":"total","k":"KO","v":0.00881},{"p":"H","g":"total","k":"KO","v":0.00866},{"p":"H","g":"total","k":"KO","v":0.00791},{"p":"H","g":"total","k":"KO","v":0.00698},
{"p":"I","g":"0-2","k":"C","v":0.00894},{"p":"I","g":"0-2","k":"C","v":0.00598},{"p":"I","g":"0-2","k":"C","v":0.00457},{"p":"I","g":"0-2","k":"C","v":0.00322},{"p":"I","g":"0-2","k":"C","v":0.00191},
{"p":"I","g":"0-2","k":"KO","v":0.00608},{"p":"I","g":"0-2","k":"KO","v":0.00467},{"p":"I","g":"0-2","k":"KO","v":0.00432},{"p":"I","g":"0-2","k":"KO","v":0.00407},{"p":"I","g":"0-2","k":"KO","v":0.0036},{"p":"I","g":"0-2","k":"KO","v":0.0031},
{"p":"I","g":"2-4","k":"C","v":0.0079},{"p":"I","g":"2-4","k":"C","v":0.0055},{"p":"I","g":"2-4","k":"C","v":0.0052},{"p":"I","g":"2-4","k":"C","v":0.0038},{"p":"I","g":"2-4","k":"C","v":0.0023},
{"p":"I","g":"2-4","k":"KO","v":0.00709},{"p":"I","g":"2-4","k":"KO","v":0.00658},{"p":"I","g":"2-4","k":"KO","v":0.00407},{"p":"I","g":"2-4","k":"KO","v":0.00322},{"p":"I","g":"2-4","k":"KO","v":0.00231},{"p":"I","g":"2-4","k":"KO","v":0.00191},
{"p":"I","g":"4-6","k":"C","v":0.0053},{"p":"I","g":"4-6","k":"C","v":0.0025},{"p":"I","g":"4-6","k":"C","v":0.0016},{"p":"I","g":"4-6","k":"C","v":0.0015},{"p":"I","g":"4-6","k":"C","v":0.0008},
{"p":"I","g":"4-6","k":"KO","v":0.00372},{"p":"I","g":"4-6","k":"KO","v":0.00357},{"p":"I","g":"4-6","k":"KO","v":0.00307},{"p":"I","g":"4-6","k":"KO","v":0.00231},{"p":"I","g":"4-6","k":"KO","v":0.00181},{"p":"I","g":"4-6","k":"KO","v":0.00146},{"p":"I","g":"4-6","k":"KO","v":0.00121},
{"p":"I","g":"total","k":"C","v":0.01563},{"p":"I","g":"total","k":"C","v":0.01553},{"p":"I","g":"total","k":"C","v":0.01136},{"p":"I","g":"total","k":"C","v":0.0106},{"p":"I","g":"total","k":"C","v":0.00985},
{"p":"I","g":"total","k":"KO","v":0.01472},{"p":"I","g":"total","k":"KO","v":0.0112},{"p":"I","g":"total","k":"KO","v":0.01095},{"p":"I","g":"total","k":"KO","v":0.01035},{"p":"I","g":"total","k":"KO","v":0.0096},{"p":"I","g":"total","k":"KO","v":0.00884},{"p":"I","g":"total","k":"KO","v":0.00794},
{"p":"J","g":"0-2","k":"C","v":0.00371},{"p":"J","g":"0-2","k":"C","v":0.00366},{"p":"J","g":"0-2","k":"C","v":0.00229},{"p":"J","g":"0-2","k":"C","v":0.00192},{"p":"J","g":"0-2","k":"C","v":0.00129},{"p":"J","g":"0-2","k":"C","v":0.00109},
{"p":"J","g":"0-2","k":"KO","v":0.00508},{"p":"J","g":"0-2","k":"KO","v":0.00428},{"p":"J","g":"0-2","k":"KO","v":0.00396},{"p":"J","g":"0-2","k":"KO","v":0.00316},{"p":"J","g":"0-2","k":"KO","v":0.00279},{"p":"J","g":"0-2","k":"KO","v":0.00241},{"p":"J","g":"0-2","k":"KO","v":0.00167},{"p":"J","g":"0-2","k":"KO","v":0.0007},
{"p":"J","g":"2-4","k":"C","v":0.00333},{"p":"J","g":"2-4","k":"C","v":0.00216},{"p":"J","g":"2-4","k":"C","v":0.00204},{"p":"J","g":"2-4","k":"C","v":0.00197},{"p":"J","g":"2-4","k":"C","v":0.00142},{"p":"J","g":"2-4","k":"C","v":0.0006},
{"p":"J","g":"2-4","k":"KO","v":0.0031},{"p":"J","g":"2-4","k":"KO","v":0.0029},{"p":"J","g":"2-4","k":"KO","v":0.0028},{"p":"J","g":"2-4","k":"KO","v":0.0025},{"p":"J","g":"2-4","k":"KO","v":0.0022},{"p":"J","g":"2-4","k":"KO","v":0.0019},{"p":"J","g":"2-4","k":"KO","v":0.0017},{"p":"J","g":"2-4","k":"KO","v":0.0014},
{"p":"J","g":"4-6","k":"C","v":0.00266},{"p":"J","g":"4-6","k":"C","v":0.00259},{"p":"J","g":"4-6","k":"C","v":0.00192},{"p":"J","g":"4-6","k":"C","v":0.00147},{"p":"J","g":"4-6","k":"C","v":0.00129},{"p":"J","g":"4-6","k":"C","v":0.00122},
{"p":"J","g":"4-6","k":"KO","v":0.0026},{"p":"J","g":"4-6","k":"KO","v":0.0024},{"p":"J","g":"4-6","k":"KO","v":0.0016},{"p":"J","g":"4-6","k":"KO","v":0.0014},{"p":"J","g":"4-6","k":"KO","v":0.0012},{"p":"J","g":"4-6","k":"KO","v":0.0009},{"p":"J","g":"4-6","k":"KO","v":0.0007},
{"p":"J","g":"total","k":"C","v":0.00833},{"p":"J","g":"total","k":"C","v":0.00702},{"p":"J","g":"total","k":"C","v":0.0062},{"p":"J","g":"total","k":"C","v":0.0054},{"p":"J","g":"total","k":"C","v":0.0047},{"p":"J","g":"total","k":"C","v":0.00453},
{"p":"J","g":"total","k":"KO","v":0.0083},{"p":"J","g":"total","k":"KO","v":0.0082},{"p":"J","g":"total","k":"KO","v":0.0071},{"p":"J","g":"total","k":"KO","v":0.0064},{"p":"J","g":"total","k":"KO","v":0.0062},{"p":"J","g":"total","k":"KO","v":0.006},{"p":"J","g":"total","k":"KO","v":0.0056},{"p":"J","g":"total","k":"KO","v":0.0054},
{"p":"K","g":"0-2","k":"C","v":0.0079},{"p":"K","g":"0-2","k":"C","v":0.0059},{"p":"K","g":"0-2","k":"C","v":0.0039},{"p":"K","g":"0-2","k":"C","v":0.0033},{"p":"K","g":"0-2","k":"C","v":0.0019},{"p":"K","g":"0-2","k":"C","v":0.0011},
{"p":"K","g":"0-2","k":"KO","v":0.0076},{"p":"K","g":"0-2","k":"KO","v":0.0064},{"p":"K","g":"0-2","k":"KO","v":0.00515},{"p":"K","g":"0-2","k":"KO","v":0.004},{"p":"K","g":"0-2","k":"KO","v":0.00325},{"p":"K","g":"0-2","k":"KO","v":0.00235},{"p":"K","g":"0-2","k":"KO","v":0.00175},{"p":"K","g":"0-2","k":"KO","v":0.00075},
{"p":"K","g":"2-4","k":"C","v":0.00735},{"p":"K","g":"2-4","k":"C","v":0.0055},{"p":"K","g":"2-4","k":"C","v":0.004},{"p":"K","g":"2-4","k":"C","v":0.00375},{"p":"K","g":"2-4","k":"C","v":0.0025},{"p":"K","g":"2-4","k":"C","v":0.0009},
{"p":"K","g":"2-4","k":"KO","v":0.0063},{"p":"K","g":"2-4","k":"KO","v":0.0051},{"p":"K","g":"2-4","k":"KO","v":0.0049},{"p":"K","g":"2-4","k":"KO","v":0.0047},{"p":"K","g":"2-4","k":"KO","v":0.0044},{"p":"K","g":"2-4","k":"KO","v":0.0041},
{"p":"K","g":"4-6","k":"C","v":0.007},{"p":"K","g":"4-6","k":"C","v":0.0063},{"p":"K","g":"4-6","k":"C","v":0.0039},{"p":"K","g":"4-6","k":"C","v":0.0033},{"p":"K","g":"4-6","k":"C","v":0.0031},{"p":"K","g":"4-6","k":"C","v":0.0029},
{"p":"K","g":"4-6","k":"KO","v":0.0078},{"p":"K","g":"4-6","k":"KO","v":0.0043},{"p":"K","g":"4-6","k":"KO","v":0.003},{"p":"K","g":"4-6","k":"KO","v":0.0024},{"p":"K","g":"4-6","k":"KO","v":0.0021},{"p":"K","g":"4-6","k":"KO","v":0.0018},{"p":"K","g":"4-6","k":"KO","v":0.0015},
{"p":"K","g":"total","k":"C","v":0.01635},{"p":"K","g":"total","k":"C","v":0.01625},{"p":"K","g":"total","k":"C","v":0.01275},{"p":"K","g":"total","k":"C","v":0.0116},{"p":"K","g":"total","k":"C","v":0.0115},{"p":"K","g":"total","k":"C","v":0.006},
{"p":"K","g":"total","k":"KO","v":0.0171},{"p":"K","g":"total","k":"KO","v":0.0145},{"p":"K","g":"total","k":"KO","v":0.0141},{"p":"K","g":"total","k":"KO","v":0.012},{"p":"K","g":"total","k":"KO","v":0.01075},{"p":"K","g":"total","k":"KO","v":0.00975},{"p":"K","g":"total","k":"KO","v":0.00925},{"p":"K","g":"total","k":"KO","v":0.0085},
{"p":"L","g":"0-2","k":"C","v":0.0109},{"p":"L","g":"0-2","k":"C","v":0.0086},{"p":"L","g":"0-2","k":"C","v":0.0051},{"p":"L","g":"0-2","k":"C","v":0.0035},{"p":"L","g":"0-2","k":"C","v":0.0029},{"p":"L","g":"0-2","k":"C","v":0.0014},
{"p":"L","g":"0-2","k":"KO","v":0.0104},{"p":"L","g":"0-2","k":"KO","v":0.0103},{"p":"L","g":"0-2","k":"KO","v":0.0066},{"p":"L","g":"0-2","k":"KO","v":0.006},{"p":"L","g":"0-2","k":"KO","v":0.0053},{"p":"L","g":"0-2","k":"KO","v":0.0046},{"p":"L","g":"0-2","k":"KO","v":0.003},{"p":"L","g":"0-2","k":"KO","v":0.0011},
{"p":"L","g":"2-4","k":"C","v":0.00888},{"p":"L","g":"2-4","k":"C","v":0.00531},{"p":"L","g":"2-4","k":"C","v":0.00438},{"p":"L","g":"2-4","k":"C","v":0.00406},{"p":"L","g":"2-4","k":"C","v":0.00294},{"p":"L","g":"2-4","k":"C","v":0.00125},
{"p":"L","g":"2-4","k":"KO","v":0.0078},{"p":"L","g":"2-4","k":"KO","v":0.006},{"p":"L","g":"2-4","k":"KO","v":0.0056},{"p":"L","g":"2-4","k":"KO","v":0.0054},{"p":"L","g":"2-4","k":"KO","v":0.0052},{"p":"L","g":"2-4","k":"KO","v":0.005},
{"p":"L","g":"4-6","k":"C","v":0.0072},{"p":"L","g":"4-6","k":"C","v":0.0059},{"p":"L","g":"4-6","k":"C","v":0.0044},{"p":"L","g":"4-6","k":"C","v":0.004},{"p":"L","g":"4-6","k":"C","v":0.0031},{"p":"L","g":"4-6","k":"C","v":0.0029},
{"p":"L","g":"4-6","k":"KO","v":0.0074},{"p":"L","g":"4-6","k":"KO","v":0.0058},{"p":"L","g":"4-6","k":"KO","v":0.0038},{"p":"L","g":"4-6","k":"KO","v":0.003},{"p":"L","g":"4-6","k":"KO","v":0.0026},{"p":"L","g":"4-6","k":"KO","v":0.0021},{"p":"L","g":"4-6","k":"KO","v":0.0016},
{"p":"L","g":"total","k":"C","v":0.02031},{"p":"L","g":"total","k":"C","v":0.02013},{"p":"L","g":"total","k":"C","v":0.01481},{"p":"L","g":"total","k":"C","v":0.01344},{"p":"L","g":"total","k":"C","v":0.01325},{"p":"L","g":"total","k":"C","v":0.00825},
{"p":"L","g":"total","k":"KO","v":0.0205},{"p":"L","g":"total","k":"KO","v":0.0177},{"p":"L","g":"total","k":"KO","v":0.0175},{"p":"L","g":"total","k":"KO","v":0.01625},{"p":"L","g":"total","k":"KO","v":0.015},{"p":"L","g":"total","k":"KO","v":0.01344},{"p":"L","g":"total","k":"KO","v":0.01175},{"p":"L","g":"total","k":"KO","v":0.01156}
]},
"vconcat":[
{"width":715,"height":59.5,"data":{"values":[{}]},"layer":[
{"mark":{"type":"text","text":"Males","fontSize":12,"baseline":"middle"},"encoding":{"x":{"datum":0.4874,"type":"quantitative","scale":{"domain":[0,1],"nice":false,"zero":false},"axis":null},"y":{"datum":0.832,"type":"quantitative","scale":{"domain":[0,1],"nice":false,"zero":false},"axis":null}}},
{"mark":{"type":"rule","color":"#222","strokeWidth":1.3},"encoding":{"x":{"datum":0.2797,"type":"quantitative","scale":{"domain":[0,1],"nice":false,"zero":false},"axis":null},"x2":{"datum":0.6965},"y":{"datum":0.681,"type":"quantitative","scale":{"domain":[0,1],"nice":false,"zero":false},"axis":null}}},
{"mark":{"type":"text","text":"CKD","fontSize":12.5,"baseline":"middle"},"encoding":{"x":{"datum":0.4874,"type":"quantitative","scale":{"domain":[0,1],"nice":false,"zero":false},"axis":null},"y":{"datum":0.445,"type":"quantitative","scale":{"domain":[0,1],"nice":false,"zero":false},"axis":null}}},
{"mark":{"type":"rule","color":"#222","strokeWidth":1.3},"encoding":{"x":{"datum":-0.0713,"type":"quantitative","scale":{"domain":[0,1],"nice":false,"zero":false},"axis":null},"x2":{"datum":1},"y":{"datum":0.244,"type":"quantitative","scale":{"domain":[0,1],"nice":false,"zero":false},"axis":null}}}
]},
{"spacing":1,"hconcat":[
{"width":202,"height":134,"resolve":{"axis":{"x":"independent"}},"layer":[
{"data":{"name":"bars"},"transform":[{"filter":"datum.p=='A'"}],"mark":{"type":"bar","fill":"#b3c2bd","stroke":"black","strokeWidth":1.5},"encoding":{"x":{"field":"g","type":"nominal","scale":{"domain":["0-2","2-4","4-6","total"],"paddingInner":0.238,"paddingOuter":0.095},"axis":{"orient":"bottom","title":"A","titleX":-50,"titleY":-152,"titleAlign":"left","titleBaseline":"middle","titleFontSize":15,"titleFontWeight":"bold","labelExpr":"datum.value=='total'?'total':datum.value+' hours'"}},"xOffset":{"field":"k","type":"nominal","scale":{"domain":["C","KO"],"paddingInner":0.36,"paddingOuter":0.18}},"y":{"field":"m","type":"quantitative","scale":{"domain":[0,0.005],"nice":false},"axis":{"title":"K*V (mmol/g body weight)","values":[0,0.001,0.002,0.003,0.004,0.005],"format":".3f"}}}},
{"data":{"name":"pts"},"transform":[{"filter":"datum.p=='A'"}],"mark":{"type":"circle","size":30,"stroke":"black","strokeWidth":1.3,"opacity":1},"encoding":{"x":{"field":"g","type":"nominal","axis":null},"xOffset":{"field":"k","type":"nominal"},"y":{"field":"v","type":"quantitative","scale":{"domain":[0,0.005],"nice":false},"axis":{"title":"K*V (mmol/g body weight)","values":[0,0.001,0.002,0.003,0.004,0.005],"format":".3f"}},"fill":{"field":"k","type":"nominal","scale":{"domain":["C","KO"],"range":["white","black"]},"legend":null}}},
{"data":{"name":"bars"},"transform":[{"filter":"datum.p=='A'"}],"mark":{"type":"rule","color":"#e41e26","strokeWidth":1.5},"encoding":{"x":{"field":"g","type":"nominal","axis":null},"xOffset":{"field":"k","type":"nominal"},"y":{"field":"lo","type":"quantitative","scale":{"domain":[0,0.005],"nice":false},"axis":{"title":"K*V (mmol/g body weight)","values":[0,0.001,0.002,0.003,0.004,0.005],"format":".3f"}},"y2":{"field":"hi"}}},
{"data":{"name":"bars"},"transform":[{"filter":"datum.p=='A'"}],"mark":{"type":"tick","color":"#e41e26","size":8,"thickness":1.5},"encoding":{"x":{"field":"g","type":"nominal","axis":null},"xOffset":{"field":"k","type":"nominal"},"y":{"field":"lo","type":"quantitative","scale":{"domain":[0,0.005],"nice":false},"axis":{"title":"K*V (mmol/g body weight)","values":[0,0.001,0.002,0.003,0.004,0.005],"format":".3f"}}}},
{"data":{"name":"bars"},"transform":[{"filter":"datum.p=='A'"}],"mark":{"type":"tick","color":"#e41e26","size":8,"thickness":1.5},"encoding":{"x":{"field":"g","type":"nominal","axis":null},"xOffset":{"field":"k","type":"nominal"},"y":{"field":"hi","type":"quantitative","scale":{"domain":[0,0.005],"nice":false},"axis":{"title":"K*V (mmol/g body weight)","values":[0,0.001,0.002,0.003,0.004,0.005],"format":".3f"}}}},
{"data":{"name":"bars"},"transform":[{"filter":"datum.p=='A'"}],"mark":{"type":"text","fontSize":10,"dy":9,"baseline":"middle"},"encoding":{"x":{"field":"g","type":"nominal","axis":{"orient":"top","title":"Potassium","labels":false,"ticks":false,"domain":false,"titleX":93,"titleY":-18,"titleBaseline":"middle","titleAlign":"center","titleFontSize":12,"titleFontWeight":"normal"}},"xOffset":{"field":"k","type":"nominal"},"y":{"datum":0,"type":"quantitative","scale":{"domain":[0,0.005],"nice":false},"axis":{"title":"K*V (mmol/g body weight)","values":[0,0.001,0.002,0.003,0.004,0.005],"format":".3f"}},"text":{"field":"k","type":"nominal"}}},
{"data":{"name":"ann"},"transform":[{"filter":"datum.p=='A'"}],"mark":{"type":"tick","color":"black","size":18,"thickness":1.2},"encoding":{"x":{"field":"g","type":"nominal","axis":null},"y":{"field":"y","type":"quantitative","scale":{"domain":[0,0.005],"nice":false},"axis":{"title":"K*V (mmol/g body weight)","values":[0,0.001,0.002,0.003,0.004,0.005],"format":".3f"}}}},
{"data":{"name":"ann"},"transform":[{"filter":"datum.p=='A'"}],"mark":{"type":"text","fontSize":8,"dy":-2,"baseline":"bottom"},"encoding":{"x":{"field":"g","type":"nominal","axis":null},"y":{"field":"y","type":"quantitative","scale":{"domain":[0,0.005],"nice":false},"axis":{"title":"K*V (mmol/g body weight)","values":[0,0.001,0.002,0.003,0.004,0.005],"format":".3f"}},"text":{"field":"t","type":"nominal"}}}
]},
{"width":202,"height":134,"resolve":{"axis":{"x":"independent"}},"layer":[
{"data":{"name":"bars"},"transform":[{"filter":"datum.p=='B'"}],"mark":{"type":"bar","fill":"#b3c2bd","stroke":"black","strokeWidth":1.5},"encoding":{"x":{"field":"g","type":"nominal","scale":{"domain":["0-2","2-4","4-6","total"],"paddingInner":0.238,"paddingOuter":0.095},"axis":{"orient":"bottom","title":"B","titleX":-50,"titleY":-152,"titleAlign":"left","titleBaseline":"middle","titleFontSize":15,"titleFontWeight":"bold","labelExpr":"datum.value=='total'?'total':datum.value+' hours'"}},"xOffset":{"field":"k","type":"nominal","scale":{"domain":["C","KO"],"paddingInner":0.36,"paddingOuter":0.18}},"y":{"field":"m","type":"quantitative","scale":{"domain":[0,0.015],"nice":false},"axis":{"title":"Na*V (mmol/g body weight)","values":[0,0.005,0.01,0.015],"format":".3f"}}}},
{"data":{"name":"pts"},"transform":[{"filter":"datum.p=='B'"}],"mark":{"type":"circle","size":30,"stroke":"black","strokeWidth":1.3,"opacity":1},"encoding":{"x":{"field":"g","type":"nominal","axis":null},"xOffset":{"field":"k","type":"nominal"},"y":{"field":"v","type":"quantitative","scale":{"domain":[0,0.015],"nice":false},"axis":{"title":"Na*V (mmol/g body weight)","values":[0,0.005,0.01,0.015],"format":".3f"}},"fill":{"field":"k","type":"nominal","scale":{"domain":["C","KO"],"range":["white","black"]},"legend":null}}},
{"data":{"name":"bars"},"transform":[{"filter":"datum.p=='B'"}],"mark":{"type":"rule","color":"#e41e26","strokeWidth":1.5},"encoding":{"x":{"field":"g","type":"nominal","axis":null},"xOffset":{"field":"k","type":"nominal"},"y":{"field":"lo","type":"quantitative","scale":{"domain":[0,0.015],"nice":false},"axis":{"title":"Na*V (mmol/g body weight)","values":[0,0.005,0.01,0.015],"format":".3f"}},"y2":{"field":"hi"}}},
{"data":{"name":"bars"},"transform":[{"filter":"datum.p=='B'"}],"mark":{"type":"tick","color":"#e41e26","size":8,"thickness":1.5},"encoding":{"x":{"field":"g","type":"nominal","axis":null},"xOffset":{"field":"k","type":"nominal"},"y":{"field":"lo","type":"quantitative","scale":{"domain":[0,0.015],"nice":false},"axis":{"title":"Na*V (mmol/g body weight)","values":[0,0.005,0.01,0.015],"format":".3f"}}}},
{"data":{"name":"bars"},"transform":[{"filter":"datum.p=='B'"}],"mark":{"type":"tick","color":"#e41e26","size":8,"thickness":1.5},"encoding":{"x":{"field":"g","type":"nominal","axis":null},"xOffset":{"field":"k","type":"nominal"},"y":{"field":"hi","type":"quantitative","scale":{"domain":[0,0.015],"nice":false},"axis":{"title":"Na*V (mmol/g body weight)","values":[0,0.005,0.01,0.015],"format":".3f"}}}},
{"data":{"name":"bars"},"transform":[{"filter":"datum.p=='B'"}],"mark":{"type":"text","fontSize":10,"dy":9,"baseline":"middle"},"encoding":{"x":{"field":"g","type":"nominal","axis":{"orient":"top","title":"Sodium","labels":false,"ticks":false,"domain":false,"titleX":93,"titleY":-18,"titleBaseline":"middle","titleAlign":"center","titleFontSize":12,"titleFontWeight":"normal"}},"xOffset":{"field":"k","type":"nominal"},"y":{"datum":0,"type":"quantitative","scale":{"domain":[0,0.015],"nice":false},"axis":{"title":"Na*V (mmol/g body weight)","values":[0,0.005,0.01,0.015],"format":".3f"}},"text":{"field":"k","type":"nominal"}}},
{"data":{"name":"ann"},"transform":[{"filter":"datum.p=='B'"}],"mark":{"type":"tick","color":"black","size":18,"thickness":1.2},"encoding":{"x":{"field":"g","type":"nominal","axis":null},"y":{"field":"y","type":"quantitative","scale":{"domain":[0,0.015],"nice":false},"axis":{"title":"Na*V (mmol/g body weight)","values":[0,0.005,0.01,0.015],"format":".3f"}}}},
{"data":{"name":"ann"},"transform":[{"filter":"datum.p=='B'"}],"mark":{"type":"text","fontSize":8,"dy":-2,"baseline":"bottom"},"encoding":{"x":{"field":"g","type":"nominal","axis":null},"y":{"field":"y","type":"quantitative","scale":{"domain":[0,0.015],"nice":false},"axis":{"title":"Na*V (mmol/g body weight)","values":[0,0.005,0.01,0.015],"format":".3f"}},"text":{"field":"t","type":"nominal"}}}
]},
{"width":202,"height":134,"resolve":{"axis":{"x":"independent"}},"layer":[
{"data":{"name":"bars"},"transform":[{"filter":"datum.p=='C'"}],"mark":{"type":"bar","fill":"#b3c2bd","stroke":"black","strokeWidth":1.5},"encoding":{"x":{"field":"g","type":"nominal","scale":{"domain":["0-2","2-4","4-6","total"],"paddingInner":0.238,"paddingOuter":0.095},"axis":{"orient":"bottom","title":"C","titleX":-50,"titleY":-152,"titleAlign":"left","titleBaseline":"middle","titleFontSize":15,"titleFontWeight":"bold","labelExpr":"datum.value=='total'?'total':datum.value+' hours'"}},"xOffset":{"field":"k","type":"nominal","scale":{"domain":["C","KO"],"paddingInner":0.36,"paddingOuter":0.18}},"y":{"field":"m","type":"quantitative","scale":{"domain":[0,0.02],"nice":false},"axis":{"title":"Cl*V (mmol/g body weight)","values":[0,0.005,0.01,0.015,0.02],"format":".3f"}}}},
{"data":{"name":"pts"},"transform":[{"filter":"datum.p=='C'"}],"mark":{"type":"circle","size":30,"stroke":"black","strokeWidth":1.3,"opacity":1},"encoding":{"x":{"field":"g","type":"nominal","axis":null},"xOffset":{"field":"k","type":"nominal"},"y":{"field":"v","type":"quantitative","scale":{"domain":[0,0.02],"nice":false},"axis":{"title":"Cl*V (mmol/g body weight)","values":[0,0.005,0.01,0.015,0.02],"format":".3f"}},"fill":{"field":"k","type":"nominal","scale":{"domain":["C","KO"],"range":["white","black"]},"legend":null}}},
{"data":{"name":"bars"},"transform":[{"filter":"datum.p=='C'"}],"mark":{"type":"rule","color":"#e41e26","strokeWidth":1.5},"encoding":{"x":{"field":"g","type":"nominal","axis":null},"xOffset":{"field":"k","type":"nominal"},"y":{"field":"lo","type":"quantitative","scale":{"domain":[0,0.02],"nice":false},"axis":{"title":"Cl*V (mmol/g body weight)","values":[0,0.005,0.01,0.015,0.02],"format":".3f"}},"y2":{"field":"hi"}}},
{"data":{"name":"bars"},"transform":[{"filter":"datum.p=='C'"}],"mark":{"type":"tick","color":"#e41e26","size":8,"thickness":1.5},"encoding":{"x":{"field":"g","type":"nominal","axis":null},"xOffset":{"field":"k","type":"nominal"},"y":{"field":"lo","type":"quantitative","scale":{"domain":[0,0.02],"nice":false},"axis":{"title":"Cl*V (mmol/g body weight)","values":[0,0.005,0.01,0.015,0.02],"format":".3f"}}}},
{"data":{"name":"bars"},"transform":[{"filter":"datum.p=='C'"}],"mark":{"type":"tick","color":"#e41e26","size":8,"thickness":1.5},"encoding":{"x":{"field":"g","type":"nominal","axis":null},"xOffset":{"field":"k","type":"nominal"},"y":{"field":"hi","type":"quantitative","scale":{"domain":[0,0.02],"nice":false},"axis":{"title":"Cl*V (mmol/g body weight)","values":[0,0.005,0.01,0.015,0.02],"format":".3f"}}}},
{"data":{"name":"bars"},"transform":[{"filter":"datum.p=='C'"}],"mark":{"type":"text","fontSize":10,"dy":9,"baseline":"middle"},"encoding":{"x":{"field":"g","type":"nominal","axis":{"orient":"top","title":"Chloride","labels":false,"ticks":false,"domain":false,"titleX":93,"titleY":-18,"titleBaseline":"middle","titleAlign":"center","titleFontSize":12,"titleFontWeight":"normal"}},"xOffset":{"field":"k","type":"nominal"},"y":{"datum":0,"type":"quantitative","scale":{"domain":[0,0.02],"nice":false},"axis":{"title":"Cl*V (mmol/g body weight)","values":[0,0.005,0.01,0.015,0.02],"format":".3f"}},"text":{"field":"k","type":"nominal"}}},
{"data":{"name":"ann"},"transform":[{"filter":"datum.p=='C'"}],"mark":{"type":"tick","color":"black","size":18,"thickness":1.2},"encoding":{"x":{"field":"g","type":"nominal","axis":null},"y":{"field":"y","type":"quantitative","scale":{"domain":[0,0.02],"nice":false},"axis":{"title":"Cl*V (mmol/g body weight)","values":[0,0.005,0.01,0.015,0.02],"format":".3f"}}}},
{"data":{"name":"ann"},"transform":[{"filter":"datum.p=='C'"}],"mark":{"type":"text","fontSize":8,"dy":-2,"baseline":"bottom"},"encoding":{"x":{"field":"g","type":"nominal","axis":null},"y":{"field":"y","type":"quantitative","scale":{"domain":[0,0.02],"nice":false},"axis":{"title":"Cl*V (mmol/g body weight)","values":[0,0.005,0.01,0.015,0.02],"format":".3f"}},"text":{"field":"t","type":"nominal"}}}
]}
]},
{"width":715,"height":48.7,"data":{"values":[{}]},"layer":[
{"mark":{"type":"text","text":"HKD","fontSize":12.5,"baseline":"middle"},"encoding":{"x":{"datum":0.4874,"type":"quantitative","scale":{"domain":[0,1],"nice":false,"zero":false},"axis":null},"y":{"datum":0.497,"type":"quantitative","scale":{"domain":[0,1],"nice":false,"zero":false},"axis":null}}},
{"mark":{"type":"rule","color":"#222","strokeWidth":1.3},"encoding":{"x":{"datum":-0.0713,"type":"quantitative","scale":{"domain":[0,1],"nice":false,"zero":false},"axis":null},"x2":{"datum":1},"y":{"datum":0.25,"type":"quantitative","scale":{"domain":[0,1],"nice":false,"zero":false},"axis":null}}}
]},
{"spacing":1,"hconcat":[
{"width":202,"height":134,"resolve":{"axis":{"x":"independent"}},"layer":[
{"data":{"name":"bars"},"transform":[{"filter":"datum.p=='D'"}],"mark":{"type":"bar","fill":"#b3c2bd","stroke":"black","strokeWidth":1.5},"encoding":{"x":{"field":"g","type":"nominal","scale":{"domain":["0-2","2-4","4-6","total"],"paddingInner":0.238,"paddingOuter":0.095},"axis":{"orient":"bottom","title":"D","titleX":-50,"titleY":-152,"titleAlign":"left","titleBaseline":"middle","titleFontSize":15,"titleFontWeight":"bold","labelExpr":"datum.value=='total'?'total':datum.value+' hours'"}},"xOffset":{"field":"k","type":"nominal","scale":{"domain":["C","KO"],"paddingInner":0.36,"paddingOuter":0.18}},"y":{"field":"m","type":"quantitative","scale":{"domain":[0,0.01],"nice":false},"axis":{"title":"K*V (mmol/g body weight)","values":[0,0.002,0.004,0.006,0.008,0.01],"format":".3f"}}}},
{"data":{"name":"pts"},"transform":[{"filter":"datum.p=='D'"}],"mark":{"type":"circle","size":30,"stroke":"black","strokeWidth":1.3,"opacity":1},"encoding":{"x":{"field":"g","type":"nominal","axis":null},"xOffset":{"field":"k","type":"nominal"},"y":{"field":"v","type":"quantitative","scale":{"domain":[0,0.01],"nice":false},"axis":{"title":"K*V (mmol/g body weight)","values":[0,0.002,0.004,0.006,0.008,0.01],"format":".3f"}},"fill":{"field":"k","type":"nominal","scale":{"domain":["C","KO"],"range":["white","black"]},"legend":null}}},
{"data":{"name":"bars"},"transform":[{"filter":"datum.p=='D'"}],"mark":{"type":"rule","color":"#e41e26","strokeWidth":1.5},"encoding":{"x":{"field":"g","type":"nominal","axis":null},"xOffset":{"field":"k","type":"nominal"},"y":{"field":"lo","type":"quantitative","scale":{"domain":[0,0.01],"nice":false},"axis":{"title":"K*V (mmol/g body weight)","values":[0,0.002,0.004,0.006,0.008,0.01],"format":".3f"}},"y2":{"field":"hi"}}},
{"data":{"name":"bars"},"transform":[{"filter":"datum.p=='D'"}],"mark":{"type":"tick","color":"#e41e26","size":8,"thickness":1.5},"encoding":{"x":{"field":"g","type":"nominal","axis":null},"xOffset":{"field":"k","type":"nominal"},"y":{"field":"lo","type":"quantitative","scale":{"domain":[0,0.01],"nice":false},"axis":{"title":"K*V (mmol/g body weight)","values":[0,0.002,0.004,0.006,0.008,0.01],"format":".3f"}}}},
{"data":{"name":"bars"},"transform":[{"filter":"datum.p=='D'"}],"mark":{"type":"tick","color":"#e41e26","size":8,"thickness":1.5},"encoding":{"x":{"field":"g","type":"nominal","axis":null},"xOffset":{"field":"k","type":"nominal"},"y":{"field":"hi","type":"quantitative","scale":{"domain":[0,0.01],"nice":false},"axis":{"title":"K*V (mmol/g body weight)","values":[0,0.002,0.004,0.006,0.008,0.01],"format":".3f"}}}},
{"data":{"name":"bars"},"transform":[{"filter":"datum.p=='D'"}],"mark":{"type":"text","fontSize":10,"dy":9,"baseline":"middle"},"encoding":{"x":{"field":"g","type":"nominal","axis":{"orient":"top","title":"Potassium","labels":false,"ticks":false,"domain":false,"titleX":93,"titleY":-18,"titleBaseline":"middle","titleAlign":"center","titleFontSize":12,"titleFontWeight":"normal"}},"xOffset":{"field":"k","type":"nominal"},"y":{"datum":0,"type":"quantitative","scale":{"domain":[0,0.01],"nice":false},"axis":{"title":"K*V (mmol/g body weight)","values":[0,0.002,0.004,0.006,0.008,0.01],"format":".3f"}},"text":{"field":"k","type":"nominal"}}},
{"data":{"name":"ann"},"transform":[{"filter":"datum.p=='D'"}],"mark":{"type":"tick","color":"black","size":18,"thickness":1.2},"encoding":{"x":{"field":"g","type":"nominal","axis":null},"y":{"field":"y","type":"quantitative","scale":{"domain":[0,0.01],"nice":false},"axis":{"title":"K*V (mmol/g body weight)","values":[0,0.002,0.004,0.006,0.008,0.01],"format":".3f"}}}},
{"data":{"name":"ann"},"transform":[{"filter":"datum.p=='D'"}],"mark":{"type":"text","fontSize":8,"dy":-2,"baseline":"bottom"},"encoding":{"x":{"field":"g","type":"nominal","axis":null},"y":{"field":"y","type":"quantitative","scale":{"domain":[0,0.01],"nice":false},"axis":{"title":"K*V (mmol/g body weight)","values":[0,0.002,0.004,0.006,0.008,0.01],"format":".3f"}},"text":{"field":"t","type":"nominal"}}},
{"data":{"name":"ann"},"transform":[{"filter":"datum.p=='D' && datum.s"}],"mark":{"type":"text","fontSize":12,"dy":-11,"baseline":"bottom"},"encoding":{"x":{"field":"g","type":"nominal","axis":null},"y":{"field":"y","type":"quantitative","scale":{"domain":[0,0.01],"nice":false},"axis":{"title":"K*V (mmol/g body weight)","values":[0,0.002,0.004,0.006,0.008,0.01],"format":".3f"}},"text":{"field":"s","type":"nominal"}}}
]},
{"width":202,"height":134,"resolve":{"axis":{"x":"independent"}},"layer":[
{"data":{"name":"bars"},"transform":[{"filter":"datum.p=='E'"}],"mark":{"type":"bar","fill":"#b3c2bd","stroke":"black","strokeWidth":1.5},"encoding":{"x":{"field":"g","type":"nominal","scale":{"domain":["0-2","2-4","4-6","total"],"paddingInner":0.238,"paddingOuter":0.095},"axis":{"orient":"bottom","title":"E","titleX":-50,"titleY":-152,"titleAlign":"left","titleBaseline":"middle","titleFontSize":15,"titleFontWeight":"bold","labelExpr":"datum.value=='total'?'total':datum.value+' hours'"}},"xOffset":{"field":"k","type":"nominal","scale":{"domain":["C","KO"],"paddingInner":0.36,"paddingOuter":0.18}},"y":{"field":"m","type":"quantitative","scale":{"domain":[0,0.015],"nice":false},"axis":{"title":"Na*V (mmol/g body weight)","values":[0,0.005,0.01,0.015],"format":".3f"}}}},
{"data":{"name":"pts"},"transform":[{"filter":"datum.p=='E'"}],"mark":{"type":"circle","size":30,"stroke":"black","strokeWidth":1.3,"opacity":1},"encoding":{"x":{"field":"g","type":"nominal","axis":null},"xOffset":{"field":"k","type":"nominal"},"y":{"field":"v","type":"quantitative","scale":{"domain":[0,0.015],"nice":false},"axis":{"title":"Na*V (mmol/g body weight)","values":[0,0.005,0.01,0.015],"format":".3f"}},"fill":{"field":"k","type":"nominal","scale":{"domain":["C","KO"],"range":["white","black"]},"legend":null}}},
{"data":{"name":"bars"},"transform":[{"filter":"datum.p=='E'"}],"mark":{"type":"rule","color":"#e41e26","strokeWidth":1.5},"encoding":{"x":{"field":"g","type":"nominal","axis":null},"xOffset":{"field":"k","type":"nominal"},"y":{"field":"lo","type":"quantitative","scale":{"domain":[0,0.015],"nice":false},"axis":{"title":"Na*V (mmol/g body weight)","values":[0,0.005,0.01,0.015],"format":".3f"}},"y2":{"field":"hi"}}},
{"data":{"name":"bars"},"transform":[{"filter":"datum.p=='E'"}],"mark":{"type":"tick","color":"#e41e26","size":8,"thickness":1.5},"encoding":{"x":{"field":"g","type":"nominal","axis":null},"xOffset":{"field":"k","type":"nominal"},"y":{"field":"lo","type":"quantitative","scale":{"domain":[0,0.015],"nice":false},"axis":{"title":"Na*V (mmol/g body weight)","values":[0,0.005,0.01,0.015],"format":".3f"}}}},
{"data":{"name":"bars"},"transform":[{"filter":"datum.p=='E'"}],"mark":{"type":"tick","color":"#e41e26","size":8,"thickness":1.5},"encoding":{"x":{"field":"g","type":"nominal","axis":null},"xOffset":{"field":"k","type":"nominal"},"y":{"field":"hi","type":"quantitative","scale":{"domain":[0,0.015],"nice":false},"axis":{"title":"Na*V (mmol/g body weight)","values":[0,0.005,0.01,0.015],"format":".3f"}}}},
{"data":{"name":"bars"},"transform":[{"filter":"datum.p=='E'"}],"mark":{"type":"text","fontSize":10,"dy":9,"baseline":"middle"},"encoding":{"x":{"field":"g","type":"nominal","axis":{"orient":"top","title":"Sodium","labels":false,"ticks":false,"domain":false,"titleX":93,"titleY":-18,"titleBaseline":"middle","titleAlign":"center","titleFontSize":12,"titleFontWeight":"normal"}},"xOffset":{"field":"k","type":"nominal"},"y":{"datum":0,"type":"quantitative","scale":{"domain":[0,0.015],"nice":false},"axis":{"title":"Na*V (mmol/g body weight)","values":[0,0.005,0.01,0.015],"format":".3f"}},"text":{"field":"k","type":"nominal"}}},
{"data":{"name":"ann"},"transform":[{"filter":"datum.p=='E'"}],"mark":{"type":"tick","color":"black","size":18,"thickness":1.2},"encoding":{"x":{"field":"g","type":"nominal","axis":null},"y":{"field":"y","type":"quantitative","scale":{"domain":[0,0.015],"nice":false},"axis":{"title":"Na*V (mmol/g body weight)","values":[0,0.005,0.01,0.015],"format":".3f"}}}},
{"data":{"name":"ann"},"transform":[{"filter":"datum.p=='E'"}],"mark":{"type":"text","fontSize":8,"dy":-2,"baseline":"bottom"},"encoding":{"x":{"field":"g","type":"nominal","axis":null},"y":{"field":"y","type":"quantitative","scale":{"domain":[0,0.015],"nice":false},"axis":{"title":"Na*V (mmol/g body weight)","values":[0,0.005,0.01,0.015],"format":".3f"}},"text":{"field":"t","type":"nominal"}}}
]},
{"width":202,"height":134,"resolve":{"axis":{"x":"independent"}},"layer":[
{"data":{"name":"bars"},"transform":[{"filter":"datum.p=='F'"}],"mark":{"type":"bar","fill":"#b3c2bd","stroke":"black","strokeWidth":1.5},"encoding":{"x":{"field":"g","type":"nominal","scale":{"domain":["0-2","2-4","4-6","total"],"paddingInner":0.238,"paddingOuter":0.095},"axis":{"orient":"bottom","title":"F","titleX":-50,"titleY":-152,"titleAlign":"left","titleBaseline":"middle","titleFontSize":15,"titleFontWeight":"bold","labelExpr":"datum.value=='total'?'total':datum.value+' hours'"}},"xOffset":{"field":"k","type":"nominal","scale":{"domain":["C","KO"],"paddingInner":0.36,"paddingOuter":0.18}},"y":{"field":"m","type":"quantitative","scale":{"domain":[0,0.02],"nice":false},"axis":{"title":"Cl*V (mmol/g body weight)","values":[0,0.005,0.01,0.015,0.02],"format":".3f"}}}},
{"data":{"name":"pts"},"transform":[{"filter":"datum.p=='F'"}],"mark":{"type":"circle","size":30,"stroke":"black","strokeWidth":1.3,"opacity":1},"encoding":{"x":{"field":"g","type":"nominal","axis":null},"xOffset":{"field":"k","type":"nominal"},"y":{"field":"v","type":"quantitative","scale":{"domain":[0,0.02],"nice":false},"axis":{"title":"Cl*V (mmol/g body weight)","values":[0,0.005,0.01,0.015,0.02],"format":".3f"}},"fill":{"field":"k","type":"nominal","scale":{"domain":["C","KO"],"range":["white","black"]},"legend":null}}},
{"data":{"name":"bars"},"transform":[{"filter":"datum.p=='F'"}],"mark":{"type":"rule","color":"#e41e26","strokeWidth":1.5},"encoding":{"x":{"field":"g","type":"nominal","axis":null},"xOffset":{"field":"k","type":"nominal"},"y":{"field":"lo","type":"quantitative","scale":{"domain":[0,0.02],"nice":false},"axis":{"title":"Cl*V (mmol/g body weight)","values":[0,0.005,0.01,0.015,0.02],"format":".3f"}},"y2":{"field":"hi"}}},
{"data":{"name":"bars"},"transform":[{"filter":"datum.p=='F'"}],"mark":{"type":"tick","color":"#e41e26","size":8,"thickness":1.5},"encoding":{"x":{"field":"g","type":"nominal","axis":null},"xOffset":{"field":"k","type":"nominal"},"y":{"field":"lo","type":"quantitative","scale":{"domain":[0,0.02],"nice":false},"axis":{"title":"Cl*V (mmol/g body weight)","values":[0,0.005,0.01,0.015,0.02],"format":".3f"}}}},
{"data":{"name":"bars"},"transform":[{"filter":"datum.p=='F'"}],"mark":{"type":"tick","color":"#e41e26","size":8,"thickness":1.5},"encoding":{"x":{"field":"g","type":"nominal","axis":null},"xOffset":{"field":"k","type":"nominal"},"y":{"field":"hi","type":"quantitative","scale":{"domain":[0,0.02],"nice":false},"axis":{"title":"Cl*V (mmol/g body weight)","values":[0,0.005,0.01,0.015,0.02],"format":".3f"}}}},
{"data":{"name":"bars"},"transform":[{"filter":"datum.p=='F'"}],"mark":{"type":"text","fontSize":10,"dy":9,"baseline":"middle"},"encoding":{"x":{"field":"g","type":"nominal","axis":{"orient":"top","title":"Chloride","labels":false,"ticks":false,"domain":false,"titleX":93,"titleY":-18,"titleBaseline":"middle","titleAlign":"center","titleFontSize":12,"titleFontWeight":"normal"}},"xOffset":{"field":"k","type":"nominal"},"y":{"datum":0,"type":"quantitative","scale":{"domain":[0,0.02],"nice":false},"axis":{"title":"Cl*V (mmol/g body weight)","values":[0,0.005,0.01,0.015,0.02],"format":".3f"}},"text":{"field":"k","type":"nominal"}}},
{"data":{"name":"ann"},"transform":[{"filter":"datum.p=='F'"}],"mark":{"type":"tick","color":"black","size":18,"thickness":1.2},"encoding":{"x":{"field":"g","type":"nominal","axis":null},"y":{"field":"y","type":"quantitative","scale":{"domain":[0,0.02],"nice":false},"axis":{"title":"Cl*V (mmol/g body weight)","values":[0,0.005,0.01,0.015,0.02],"format":".3f"}}}},
{"data":{"name":"ann"},"transform":[{"filter":"datum.p=='F'"}],"mark":{"type":"text","fontSize":8,"dy":-2,"baseline":"bottom"},"encoding":{"x":{"field":"g","type":"nominal","axis":null},"y":{"field":"y","type":"quantitative","scale":{"domain":[0,0.02],"nice":false},"axis":{"title":"Cl*V (mmol/g body weight)","values":[0,0.005,0.01,0.015,0.02],"format":".3f"}},"text":{"field":"t","type":"nominal"}}}
]}
]},
{"width":715,"height":101.3,"data":{"values":[{}]},"layer":[
{"mark":{"type":"text","text":"Females","fontSize":12,"baseline":"middle"},"encoding":{"x":{"datum":0.4874,"type":"quantitative","scale":{"domain":[0,1],"nice":false,"zero":false},"axis":null},"y":{"datum":0.479,"type":"quantitative","scale":{"domain":[0,1],"nice":false,"zero":false},"axis":null}}},
{"mark":{"type":"rule","color":"#222","strokeWidth":1.3},"encoding":{"x":{"datum":0.2797,"type":"quantitative","scale":{"domain":[0,1],"nice":false,"zero":false},"axis":null},"x2":{"datum":0.6965},"y":{"datum":0.38,"type":"quantitative","scale":{"domain":[0,1],"nice":false,"zero":false},"axis":null}}},
{"mark":{"type":"text","text":"CKD","fontSize":12.5,"baseline":"middle"},"encoding":{"x":{"datum":0.4874,"type":"quantitative","scale":{"domain":[0,1],"nice":false,"zero":false},"axis":null},"y":{"datum":0.232,"type":"quantitative","scale":{"domain":[0,1],"nice":false,"zero":false},"axis":null}}},
{"mark":{"type":"rule","color":"#222","strokeWidth":1.3},"encoding":{"x":{"datum":-0.0713,"type":"quantitative","scale":{"domain":[0,1],"nice":false,"zero":false},"axis":null},"x2":{"datum":1},"y":{"datum":0.123,"type":"quantitative","scale":{"domain":[0,1],"nice":false,"zero":false},"axis":null}}}
]},
{"spacing":1,"hconcat":[
{"width":202,"height":134,"resolve":{"axis":{"x":"independent"}},"layer":[
{"data":{"name":"bars"},"transform":[{"filter":"datum.p=='G'"}],"mark":{"type":"bar","fill":"#b3c2bd","stroke":"black","strokeWidth":1.5},"encoding":{"x":{"field":"g","type":"nominal","scale":{"domain":["0-2","2-4","4-6","total"],"paddingInner":0.238,"paddingOuter":0.095},"axis":{"orient":"bottom","title":"G","titleX":-50,"titleY":-152,"titleAlign":"left","titleBaseline":"middle","titleFontSize":15,"titleFontWeight":"bold","labelExpr":"datum.value=='total'?'total':datum.value+' hours'"}},"xOffset":{"field":"k","type":"nominal","scale":{"domain":["C","KO"],"paddingInner":0.36,"paddingOuter":0.18}},"y":{"field":"m","type":"quantitative","scale":{"domain":[0,0.005],"nice":false},"axis":{"title":"K*V (mmol/g body weight)","values":[0,0.001,0.002,0.003,0.004,0.005],"format":".3f"}}}},
{"data":{"name":"pts"},"transform":[{"filter":"datum.p=='G'"}],"mark":{"type":"circle","size":30,"stroke":"black","strokeWidth":1.3,"opacity":1},"encoding":{"x":{"field":"g","type":"nominal","axis":null},"xOffset":{"field":"k","type":"nominal"},"y":{"field":"v","type":"quantitative","scale":{"domain":[0,0.005],"nice":false},"axis":{"title":"K*V (mmol/g body weight)","values":[0,0.001,0.002,0.003,0.004,0.005],"format":".3f"}},"fill":{"field":"k","type":"nominal","scale":{"domain":["C","KO"],"range":["white","black"]},"legend":null}}},
{"data":{"name":"bars"},"transform":[{"filter":"datum.p=='G'"}],"mark":{"type":"rule","color":"#e41e26","strokeWidth":1.5},"encoding":{"x":{"field":"g","type":"nominal","axis":null},"xOffset":{"field":"k","type":"nominal"},"y":{"field":"lo","type":"quantitative","scale":{"domain":[0,0.005],"nice":false},"axis":{"title":"K*V (mmol/g body weight)","values":[0,0.001,0.002,0.003,0.004,0.005],"format":".3f"}},"y2":{"field":"hi"}}},
{"data":{"name":"bars"},"transform":[{"filter":"datum.p=='G'"}],"mark":{"type":"tick","color":"#e41e26","size":8,"thickness":1.5},"encoding":{"x":{"field":"g","type":"nominal","axis":null},"xOffset":{"field":"k","type":"nominal"},"y":{"field":"lo","type":"quantitative","scale":{"domain":[0,0.005],"nice":false},"axis":{"title":"K*V (mmol/g body weight)","values":[0,0.001,0.002,0.003,0.004,0.005],"format":".3f"}}}},
{"data":{"name":"bars"},"transform":[{"filter":"datum.p=='G'"}],"mark":{"type":"tick","color":"#e41e26","size":8,"thickness":1.5},"encoding":{"x":{"field":"g","type":"nominal","axis":null},"xOffset":{"field":"k","type":"nominal"},"y":{"field":"hi","type":"quantitative","scale":{"domain":[0,0.005],"nice":false},"axis":{"title":"K*V (mmol/g body weight)","values":[0,0.001,0.002,0.003,0.004,0.005],"format":".3f"}}}},
{"data":{"name":"bars"},"transform":[{"filter":"datum.p=='G'"}],"mark":{"type":"text","fontSize":10,"dy":9,"baseline":"middle"},"encoding":{"x":{"field":"g","type":"nominal","axis":{"orient":"top","title":"Potassium","labels":false,"ticks":false,"domain":false,"titleX":93,"titleY":-18,"titleBaseline":"middle","titleAlign":"center","titleFontSize":12,"titleFontWeight":"normal"}},"xOffset":{"field":"k","type":"nominal"},"y":{"datum":0,"type":"quantitative","scale":{"domain":[0,0.005],"nice":false},"axis":{"title":"K*V (mmol/g body weight)","values":[0,0.001,0.002,0.003,0.004,0.005],"format":".3f"}},"text":{"field":"k","type":"nominal"}}},
{"data":{"name":"ann"},"transform":[{"filter":"datum.p=='G'"}],"mark":{"type":"tick","color":"black","size":18,"thickness":1.2},"encoding":{"x":{"field":"g","type":"nominal","axis":null},"y":{"field":"y","type":"quantitative","scale":{"domain":[0,0.005],"nice":false},"axis":{"title":"K*V (mmol/g body weight)","values":[0,0.001,0.002,0.003,0.004,0.005],"format":".3f"}}}},
{"data":{"name":"ann"},"transform":[{"filter":"datum.p=='G'"}],"mark":{"type":"text","fontSize":8,"dy":-2,"baseline":"bottom"},"encoding":{"x":{"field":"g","type":"nominal","axis":null},"y":{"field":"y","type":"quantitative","scale":{"domain":[0,0.005],"nice":false},"axis":{"title":"K*V (mmol/g body weight)","values":[0,0.001,0.002,0.003,0.004,0.005],"format":".3f"}},"text":{"field":"t","type":"nominal"}}}
]},
{"width":202,"height":134,"resolve":{"axis":{"x":"independent"}},"layer":[
{"data":{"name":"bars"},"transform":[{"filter":"datum.p=='H'"}],"mark":{"type":"bar","fill":"#b3c2bd","stroke":"black","strokeWidth":1.5},"encoding":{"x":{"field":"g","type":"nominal","scale":{"domain":["0-2","2-4","4-6","total"],"paddingInner":0.238,"paddingOuter":0.095},"axis":{"orient":"bottom","title":"H","titleX":-50,"titleY":-152,"titleAlign":"left","titleBaseline":"middle","titleFontSize":15,"titleFontWeight":"bold","labelExpr":"datum.value=='total'?'total':datum.value+' hours'"}},"xOffset":{"field":"k","type":"nominal","scale":{"domain":["C","KO"],"paddingInner":0.36,"paddingOuter":0.18}},"y":{"field":"m","type":"quantitative","scale":{"domain":[0,0.015],"nice":false},"axis":{"title":"Na*V (mmol/g body weight)","values":[0,0.005,0.01,0.015],"format":".3f"}}}},
{"data":{"name":"pts"},"transform":[{"filter":"datum.p=='H'"}],"mark":{"type":"circle","size":30,"stroke":"black","strokeWidth":1.3,"opacity":1},"encoding":{"x":{"field":"g","type":"nominal","axis":null},"xOffset":{"field":"k","type":"nominal"},"y":{"field":"v","type":"quantitative","scale":{"domain":[0,0.015],"nice":false},"axis":{"title":"Na*V (mmol/g body weight)","values":[0,0.005,0.01,0.015],"format":".3f"}},"fill":{"field":"k","type":"nominal","scale":{"domain":["C","KO"],"range":["white","black"]},"legend":null}}},
{"data":{"name":"bars"},"transform":[{"filter":"datum.p=='H'"}],"mark":{"type":"rule","color":"#e41e26","strokeWidth":1.5},"encoding":{"x":{"field":"g","type":"nominal","axis":null},"xOffset":{"field":"k","type":"nominal"},"y":{"field":"lo","type":"quantitative","scale":{"domain":[0,0.015],"nice":false},"axis":{"title":"Na*V (mmol/g body weight)","values":[0,0.005,0.01,0.015],"format":".3f"}},"y2":{"field":"hi"}}},
{"data":{"name":"bars"},"transform":[{"filter":"datum.p=='H'"}],"mark":{"type":"tick","color":"#e41e26","size":8,"thickness":1.5},"encoding":{"x":{"field":"g","type":"nominal","axis":null},"xOffset":{"field":"k","type":"nominal"},"y":{"field":"lo","type":"quantitative","scale":{"domain":[0,0.015],"nice":false},"axis":{"title":"Na*V (mmol/g body weight)","values":[0,0.005,0.01,0.015],"format":".3f"}}}},
{"data":{"name":"bars"},"transform":[{"filter":"datum.p=='H'"}],"mark":{"type":"tick","color":"#e41e26","size":8,"thickness":1.5},"encoding":{"x":{"field":"g","type":"nominal","axis":null},"xOffset":{"field":"k","type":"nominal"},"y":{"field":"hi","type":"quantitative","scale":{"domain":[0,0.015],"nice":false},"axis":{"title":"Na*V (mmol/g body weight)","values":[0,0.005,0.01,0.015],"format":".3f"}}}},
{"data":{"name":"bars"},"transform":[{"filter":"datum.p=='H'"}],"mark":{"type":"text","fontSize":10,"dy":9,"baseline":"middle"},"encoding":{"x":{"field":"g","type":"nominal","axis":{"orient":"top","title":"Sodium","labels":false,"ticks":false,"domain":false,"titleX":93,"titleY":-18,"titleBaseline":"middle","titleAlign":"center","titleFontSize":12,"titleFontWeight":"normal"}},"xOffset":{"field":"k","type":"nominal"},"y":{"datum":0,"type":"quantitative","scale":{"domain":[0,0.015],"nice":false},"axis":{"title":"Na*V (mmol/g body weight)","values":[0,0.005,0.01,0.015],"format":".3f"}},"text":{"field":"k","type":"nominal"}}},
{"data":{"name":"ann"},"transform":[{"filter":"datum.p=='H'"}],"mark":{"type":"tick","color":"black","size":18,"thickness":1.2},"encoding":{"x":{"field":"g","type":"nominal","axis":null},"y":{"field":"y","type":"quantitative","scale":{"domain":[0,0.015],"nice":false},"axis":{"title":"Na*V (mmol/g body weight)","values":[0,0.005,0.01,0.015],"format":".3f"}}}},
{"data":{"name":"ann"},"transform":[{"filter":"datum.p=='H'"}],"mark":{"type":"text","fontSize":8,"dy":-2,"baseline":"bottom"},"encoding":{"x":{"field":"g","type":"nominal","axis":null},"y":{"field":"y","type":"quantitative","scale":{"domain":[0,0.015],"nice":false},"axis":{"title":"Na*V (mmol/g body weight)","values":[0,0.005,0.01,0.015],"format":".3f"}},"text":{"field":"t","type":"nominal"}}}
]},
{"width":202,"height":134,"resolve":{"axis":{"x":"independent"}},"layer":[
{"data":{"name":"bars"},"transform":[{"filter":"datum.p=='I'"}],"mark":{"type":"bar","fill":"#b3c2bd","stroke":"black","strokeWidth":1.5},"encoding":{"x":{"field":"g","type":"nominal","scale":{"domain":["0-2","2-4","4-6","total"],"paddingInner":0.238,"paddingOuter":0.095},"axis":{"orient":"bottom","title":"I","titleX":-50,"titleY":-152,"titleAlign":"left","titleBaseline":"middle","titleFontSize":15,"titleFontWeight":"bold","labelExpr":"datum.value=='total'?'total':datum.value+' hours'"}},"xOffset":{"field":"k","type":"nominal","scale":{"domain":["C","KO"],"paddingInner":0.36,"paddingOuter":0.18}},"y":{"field":"m","type":"quantitative","scale":{"domain":[0,0.02],"nice":false},"axis":{"title":"Cl*V (mmol/g body weight)","values":[0,0.005,0.01,0.015,0.02],"format":".3f"}}}},
{"data":{"name":"pts"},"transform":[{"filter":"datum.p=='I'"}],"mark":{"type":"circle","size":30,"stroke":"black","strokeWidth":1.3,"opacity":1},"encoding":{"x":{"field":"g","type":"nominal","axis":null},"xOffset":{"field":"k","type":"nominal"},"y":{"field":"v","type":"quantitative","scale":{"domain":[0,0.02],"nice":false},"axis":{"title":"Cl*V (mmol/g body weight)","values":[0,0.005,0.01,0.015,0.02],"format":".3f"}},"fill":{"field":"k","type":"nominal","scale":{"domain":["C","KO"],"range":["white","black"]},"legend":null}}},
{"data":{"name":"bars"},"transform":[{"filter":"datum.p=='I'"}],"mark":{"type":"rule","color":"#e41e26","strokeWidth":1.5},"encoding":{"x":{"field":"g","type":"nominal","axis":null},"xOffset":{"field":"k","type":"nominal"},"y":{"field":"lo","type":"quantitative","scale":{"domain":[0,0.02],"nice":false},"axis":{"title":"Cl*V (mmol/g body weight)","values":[0,0.005,0.01,0.015,0.02],"format":".3f"}},"y2":{"field":"hi"}}},
{"data":{"name":"bars"},"transform":[{"filter":"datum.p=='I'"}],"mark":{"type":"tick","color":"#e41e26","size":8,"thickness":1.5},"encoding":{"x":{"field":"g","type":"nominal","axis":null},"xOffset":{"field":"k","type":"nominal"},"y":{"field":"lo","type":"quantitative","scale":{"domain":[0,0.02],"nice":false},"axis":{"title":"Cl*V (mmol/g body weight)","values":[0,0.005,0.01,0.015,0.02],"format":".3f"}}}},
{"data":{"name":"bars"},"transform":[{"filter":"datum.p=='I'"}],"mark":{"type":"tick","color":"#e41e26","size":8,"thickness":1.5},"encoding":{"x":{"field":"g","type":"nominal","axis":null},"xOffset":{"field":"k","type":"nominal"},"y":{"field":"hi","type":"quantitative","scale":{"domain":[0,0.02],"nice":false},"axis":{"title":"Cl*V (mmol/g body weight)","values":[0,0.005,0.01,0.015,0.02],"format":".3f"}}}},
{"data":{"name":"bars"},"transform":[{"filter":"datum.p=='I'"}],"mark":{"type":"text","fontSize":10,"dy":9,"baseline":"middle"},"encoding":{"x":{"field":"g","type":"nominal","axis":{"orient":"top","title":"Chloride","labels":false,"ticks":false,"domain":false,"titleX":93,"titleY":-18,"titleBaseline":"middle","titleAlign":"center","titleFontSize":12,"titleFontWeight":"normal"}},"xOffset":{"field":"k","type":"nominal"},"y":{"datum":0,"type":"quantitative","scale":{"domain":[0,0.02],"nice":false},"axis":{"title":"Cl*V (mmol/g body weight)","values":[0,0.005,0.01,0.015,0.02],"format":".3f"}},"text":{"field":"k","type":"nominal"}}},
{"data":{"name":"ann"},"transform":[{"filter":"datum.p=='I'"}],"mark":{"type":"tick","color":"black","size":18,"thickness":1.2},"encoding":{"x":{"field":"g","type":"nominal","axis":null},"y":{"field":"y","type":"quantitative","scale":{"domain":[0,0.02],"nice":false},"axis":{"title":"Cl*V (mmol/g body weight)","values":[0,0.005,0.01,0.015,0.02],"format":".3f"}}}},
{"data":{"name":"ann"},"transform":[{"filter":"datum.p=='I'"}],"mark":{"type":"text","fontSize":8,"dy":-2,"baseline":"bottom"},"encoding":{"x":{"field":"g","type":"nominal","axis":null},"y":{"field":"y","type":"quantitative","scale":{"domain":[0,0.02],"nice":false},"axis":{"title":"Cl*V (mmol/g body weight)","values":[0,0.005,0.01,0.015,0.02],"format":".3f"}},"text":{"field":"t","type":"nominal"}}}
]}
]},
{"width":715,"height":56,"data":{"values":[{}]},"layer":[
{"mark":{"type":"text","text":"HKD","fontSize":12.5,"baseline":"middle"},"encoding":{"x":{"datum":0.4874,"type":"quantitative","scale":{"domain":[0,1],"nice":false,"zero":false},"axis":null},"y":{"datum":0.514,"type":"quantitative","scale":{"domain":[0,1],"nice":false,"zero":false},"axis":null}}},
{"mark":{"type":"rule","color":"#222","strokeWidth":1.3},"encoding":{"x":{"datum":-0.0713,"type":"quantitative","scale":{"domain":[0,1],"nice":false,"zero":false},"axis":null},"x2":{"datum":1},"y":{"datum":0.277,"type":"quantitative","scale":{"domain":[0,1],"nice":false,"zero":false},"axis":null}}}
]},
{"spacing":1,"hconcat":[
{"width":202,"height":134,"resolve":{"axis":{"x":"independent"}},"layer":[
{"data":{"name":"bars"},"transform":[{"filter":"datum.p=='J'"}],"mark":{"type":"bar","fill":"#b3c2bd","stroke":"black","strokeWidth":1.5},"encoding":{"x":{"field":"g","type":"nominal","scale":{"domain":["0-2","2-4","4-6","total"],"paddingInner":0.238,"paddingOuter":0.095},"axis":{"orient":"bottom","title":"J","titleX":-50,"titleY":-152,"titleAlign":"left","titleBaseline":"middle","titleFontSize":15,"titleFontWeight":"bold","labelExpr":"datum.value=='total'?'total':datum.value+' hours'"}},"xOffset":{"field":"k","type":"nominal","scale":{"domain":["C","KO"],"paddingInner":0.36,"paddingOuter":0.18}},"y":{"field":"m","type":"quantitative","scale":{"domain":[0,0.01],"nice":false},"axis":{"title":"K*V (mmol/g body weight)","values":[0,0.002,0.004,0.006,0.008,0.01],"format":".3f"}}}},
{"data":{"name":"pts"},"transform":[{"filter":"datum.p=='J'"}],"mark":{"type":"circle","size":30,"stroke":"black","strokeWidth":1.3,"opacity":1},"encoding":{"x":{"field":"g","type":"nominal","axis":null},"xOffset":{"field":"k","type":"nominal"},"y":{"field":"v","type":"quantitative","scale":{"domain":[0,0.01],"nice":false},"axis":{"title":"K*V (mmol/g body weight)","values":[0,0.002,0.004,0.006,0.008,0.01],"format":".3f"}},"fill":{"field":"k","type":"nominal","scale":{"domain":["C","KO"],"range":["white","black"]},"legend":null}}},
{"data":{"name":"bars"},"transform":[{"filter":"datum.p=='J'"}],"mark":{"type":"rule","color":"#e41e26","strokeWidth":1.5},"encoding":{"x":{"field":"g","type":"nominal","axis":null},"xOffset":{"field":"k","type":"nominal"},"y":{"field":"lo","type":"quantitative","scale":{"domain":[0,0.01],"nice":false},"axis":{"title":"K*V (mmol/g body weight)","values":[0,0.002,0.004,0.006,0.008,0.01],"format":".3f"}},"y2":{"field":"hi"}}},
{"data":{"name":"bars"},"transform":[{"filter":"datum.p=='J'"}],"mark":{"type":"tick","color":"#e41e26","size":8,"thickness":1.5},"encoding":{"x":{"field":"g","type":"nominal","axis":null},"xOffset":{"field":"k","type":"nominal"},"y":{"field":"lo","type":"quantitative","scale":{"domain":[0,0.01],"nice":false},"axis":{"title":"K*V (mmol/g body weight)","values":[0,0.002,0.004,0.006,0.008,0.01],"format":".3f"}}}},
{"data":{"name":"bars"},"transform":[{"filter":"datum.p=='J'"}],"mark":{"type":"tick","color":"#e41e26","size":8,"thickness":1.5},"encoding":{"x":{"field":"g","type":"nominal","axis":null},"xOffset":{"field":"k","type":"nominal"},"y":{"field":"hi","type":"quantitative","scale":{"domain":[0,0.01],"nice":false},"axis":{"title":"K*V (mmol/g body weight)","values":[0,0.002,0.004,0.006,0.008,0.01],"format":".3f"}}}},
{"data":{"name":"bars"},"transform":[{"filter":"datum.p=='J'"}],"mark":{"type":"text","fontSize":10,"dy":9,"baseline":"middle"},"encoding":{"x":{"field":"g","type":"nominal","axis":{"orient":"top","title":"Potassium","labels":false,"ticks":false,"domain":false,"titleX":93,"titleY":-18,"titleBaseline":"middle","titleAlign":"center","titleFontSize":12,"titleFontWeight":"normal"}},"xOffset":{"field":"k","type":"nominal"},"y":{"datum":0,"type":"quantitative","scale":{"domain":[0,0.01],"nice":false},"axis":{"title":"K*V (mmol/g body weight)","values":[0,0.002,0.004,0.006,0.008,0.01],"format":".3f"}},"text":{"field":"k","type":"nominal"}}},
{"data":{"name":"ann"},"transform":[{"filter":"datum.p=='J'"}],"mark":{"type":"tick","color":"black","size":18,"thickness":1.2},"encoding":{"x":{"field":"g","type":"nominal","axis":null},"y":{"field":"y","type":"quantitative","scale":{"domain":[0,0.01],"nice":false},"axis":{"title":"K*V (mmol/g body weight)","values":[0,0.002,0.004,0.006,0.008,0.01],"format":".3f"}}}},
{"data":{"name":"ann"},"transform":[{"filter":"datum.p=='J'"}],"mark":{"type":"text","fontSize":8,"dy":-2,"baseline":"bottom"},"encoding":{"x":{"field":"g","type":"nominal","axis":null},"y":{"field":"y","type":"quantitative","scale":{"domain":[0,0.01],"nice":false},"axis":{"title":"K*V (mmol/g body weight)","values":[0,0.002,0.004,0.006,0.008,0.01],"format":".3f"}},"text":{"field":"t","type":"nominal"}}}
]},
{"width":202,"height":134,"resolve":{"axis":{"x":"independent"}},"layer":[
{"data":{"name":"bars"},"transform":[{"filter":"datum.p=='K'"}],"mark":{"type":"bar","fill":"#b3c2bd","stroke":"black","strokeWidth":1.5},"encoding":{"x":{"field":"g","type":"nominal","scale":{"domain":["0-2","2-4","4-6","total"],"paddingInner":0.238,"paddingOuter":0.095},"axis":{"orient":"bottom","title":"K","titleX":-50,"titleY":-152,"titleAlign":"left","titleBaseline":"middle","titleFontSize":15,"titleFontWeight":"bold","labelExpr":"datum.value=='total'?'total':datum.value+' hours'"}},"xOffset":{"field":"k","type":"nominal","scale":{"domain":["C","KO"],"paddingInner":0.36,"paddingOuter":0.18}},"y":{"field":"m","type":"quantitative","scale":{"domain":[0,0.02],"nice":false},"axis":{"title":"Na*V (mmol/g body weight)","values":[0,0.005,0.01,0.015,0.02],"format":".3f"}}}},
{"data":{"name":"pts"},"transform":[{"filter":"datum.p=='K'"}],"mark":{"type":"circle","size":30,"stroke":"black","strokeWidth":1.3,"opacity":1},"encoding":{"x":{"field":"g","type":"nominal","axis":null},"xOffset":{"field":"k","type":"nominal"},"y":{"field":"v","type":"quantitative","scale":{"domain":[0,0.02],"nice":false},"axis":{"title":"Na*V (mmol/g body weight)","values":[0,0.005,0.01,0.015,0.02],"format":".3f"}},"fill":{"field":"k","type":"nominal","scale":{"domain":["C","KO"],"range":["white","black"]},"legend":null}}},
{"data":{"name":"bars"},"transform":[{"filter":"datum.p=='K'"}],"mark":{"type":"rule","color":"#e41e26","strokeWidth":1.5},"encoding":{"x":{"field":"g","type":"nominal","axis":null},"xOffset":{"field":"k","type":"nominal"},"y":{"field":"lo","type":"quantitative","scale":{"domain":[0,0.02],"nice":false},"axis":{"title":"Na*V (mmol/g body weight)","values":[0,0.005,0.01,0.015,0.02],"format":".3f"}},"y2":{"field":"hi"}}},
{"data":{"name":"bars"},"transform":[{"filter":"datum.p=='K'"}],"mark":{"type":"tick","color":"#e41e26","size":8,"thickness":1.5},"encoding":{"x":{"field":"g","type":"nominal","axis":null},"xOffset":{"field":"k","type":"nominal"},"y":{"field":"lo","type":"quantitative","scale":{"domain":[0,0.02],"nice":false},"axis":{"title":"Na*V (mmol/g body weight)","values":[0,0.005,0.01,0.015,0.02],"format":".3f"}}}},
{"data":{"name":"bars"},"transform":[{"filter":"datum.p=='K'"}],"mark":{"type":"tick","color":"#e41e26","size":8,"thickness":1.5},"encoding":{"x":{"field":"g","type":"nominal","axis":null},"xOffset":{"field":"k","type":"nominal"},"y":{"field":"hi","type":"quantitative","scale":{"domain":[0,0.02],"nice":false},"axis":{"title":"Na*V (mmol/g body weight)","values":[0,0.005,0.01,0.015,0.02],"format":".3f"}}}},
{"data":{"name":"bars"},"transform":[{"filter":"datum.p=='K'"}],"mark":{"type":"text","fontSize":10,"dy":9,"baseline":"middle"},"encoding":{"x":{"field":"g","type":"nominal","axis":{"orient":"top","title":"Sodium","labels":false,"ticks":false,"domain":false,"titleX":93,"titleY":-18,"titleBaseline":"middle","titleAlign":"center","titleFontSize":12,"titleFontWeight":"normal"}},"xOffset":{"field":"k","type":"nominal"},"y":{"datum":0,"type":"quantitative","scale":{"domain":[0,0.02],"nice":false},"axis":{"title":"Na*V (mmol/g body weight)","values":[0,0.005,0.01,0.015,0.02],"format":".3f"}},"text":{"field":"k","type":"nominal"}}},
{"data":{"name":"ann"},"transform":[{"filter":"datum.p=='K'"}],"mark":{"type":"tick","color":"black","size":18,"thickness":1.2},"encoding":{"x":{"field":"g","type":"nominal","axis":null},"y":{"field":"y","type":"quantitative","scale":{"domain":[0,0.02],"nice":false},"axis":{"title":"Na*V (mmol/g body weight)","values":[0,0.005,0.01,0.015,0.02],"format":".3f"}}}},
{"data":{"name":"ann"},"transform":[{"filter":"datum.p=='K'"}],"mark":{"type":"text","fontSize":8,"dy":-2,"baseline":"bottom"},"encoding":{"x":{"field":"g","type":"nominal","axis":null},"y":{"field":"y","type":"quantitative","scale":{"domain":[0,0.02],"nice":false},"axis":{"title":"Na*V (mmol/g body weight)","values":[0,0.005,0.01,0.015,0.02],"format":".3f"}},"text":{"field":"t","type":"nominal"}}}
]},
{"width":202,"height":134,"resolve":{"axis":{"x":"independent"}},"layer":[
{"data":{"name":"bars"},"transform":[{"filter":"datum.p=='L'"}],"mark":{"type":"bar","fill":"#b3c2bd","stroke":"black","strokeWidth":1.5},"encoding":{"x":{"field":"g","type":"nominal","scale":{"domain":["0-2","2-4","4-6","total"],"paddingInner":0.238,"paddingOuter":0.095},"axis":{"orient":"bottom","title":"L","titleX":-50,"titleY":-152,"titleAlign":"left","titleBaseline":"middle","titleFontSize":15,"titleFontWeight":"bold","labelExpr":"datum.value=='total'?'total':datum.value+' hours'"}},"xOffset":{"field":"k","type":"nominal","scale":{"domain":["C","KO"],"paddingInner":0.36,"paddingOuter":0.18}},"y":{"field":"m","type":"quantitative","scale":{"domain":[0,0.025],"nice":false},"axis":{"title":"Cl*V (mmol/g body weight)","values":[0,0.005,0.01,0.015,0.02,0.025],"format":".3f"}}}},
{"data":{"name":"pts"},"transform":[{"filter":"datum.p=='L'"}],"mark":{"type":"circle","size":30,"stroke":"black","strokeWidth":1.3,"opacity":1},"encoding":{"x":{"field":"g","type":"nominal","axis":null},"xOffset":{"field":"k","type":"nominal"},"y":{"field":"v","type":"quantitative","scale":{"domain":[0,0.025],"nice":false},"axis":{"title":"Cl*V (mmol/g body weight)","values":[0,0.005,0.01,0.015,0.02,0.025],"format":".3f"}},"fill":{"field":"k","type":"nominal","scale":{"domain":["C","KO"],"range":["white","black"]},"legend":null}}},
{"data":{"name":"bars"},"transform":[{"filter":"datum.p=='L'"}],"mark":{"type":"rule","color":"#e41e26","strokeWidth":1.5},"encoding":{"x":{"field":"g","type":"nominal","axis":null},"xOffset":{"field":"k","type":"nominal"},"y":{"field":"lo","type":"quantitative","scale":{"domain":[0,0.025],"nice":false},"axis":{"title":"Cl*V (mmol/g body weight)","values":[0,0.005,0.01,0.015,0.02,0.025],"format":".3f"}},"y2":{"field":"hi"}}},
{"data":{"name":"bars"},"transform":[{"filter":"datum.p=='L'"}],"mark":{"type":"tick","color":"#e41e26","size":8,"thickness":1.5},"encoding":{"x":{"field":"g","type":"nominal","axis":null},"xOffset":{"field":"k","type":"nominal"},"y":{"field":"lo","type":"quantitative","scale":{"domain":[0,0.025],"nice":false},"axis":{"title":"Cl*V (mmol/g body weight)","values":[0,0.005,0.01,0.015,0.02,0.025],"format":".3f"}}}},
{"data":{"name":"bars"},"transform":[{"filter":"datum.p=='L'"}],"mark":{"type":"tick","color":"#e41e26","size":8,"thickness":1.5},"encoding":{"x":{"field":"g","type":"nominal","axis":null},"xOffset":{"field":"k","type":"nominal"},"y":{"field":"hi","type":"quantitative","scale":{"domain":[0,0.025],"nice":false},"axis":{"title":"Cl*V (mmol/g body weight)","values":[0,0.005,0.01,0.015,0.02,0.025],"format":".3f"}}}},
{"data":{"name":"bars"},"transform":[{"filter":"datum.p=='L'"}],"mark":{"type":"text","fontSize":10,"dy":9,"baseline":"middle"},"encoding":{"x":{"field":"g","type":"nominal","axis":{"orient":"top","title":"Chloride","labels":false,"ticks":false,"domain":false,"titleX":93,"titleY":-18,"titleBaseline":"middle","titleAlign":"center","titleFontSize":12,"titleFontWeight":"normal"}},"xOffset":{"field":"k","type":"nominal"},"y":{"datum":0,"type":"quantitative","scale":{"domain":[0,0.025],"nice":false},"axis":{"title":"Cl*V (mmol/g body weight)","values":[0,0.005,0.01,0.015,0.02,0.025],"format":".3f"}},"text":{"field":"k","type":"nominal"}}},
{"data":{"name":"ann"},"transform":[{"filter":"datum.p=='L'"}],"mark":{"type":"tick","color":"black","size":18,"thickness":1.2},"encoding":{"x":{"field":"g","type":"nominal","axis":null},"y":{"field":"y","type":"quantitative","scale":{"domain":[0,0.025],"nice":false},"axis":{"title":"Cl*V (mmol/g body weight)","values":[0,0.005,0.01,0.015,0.02,0.025],"format":".3f"}}}},
{"data":{"name":"ann"},"transform":[{"filter":"datum.p=='L'"}],"mark":{"type":"text","fontSize":8,"dy":-2,"baseline":"bottom"},"encoding":{"x":{"field":"g","type":"nominal","axis":null},"y":{"field":"y","type":"quantitative","scale":{"domain":[0,0.025],"nice":false},"axis":{"title":"Cl*V (mmol/g body weight)","values":[0,0.005,0.01,0.015,0.02,0.025],"format":".3f"}},"text":{"field":"t","type":"nominal"}}}
]}
]}
]
}
